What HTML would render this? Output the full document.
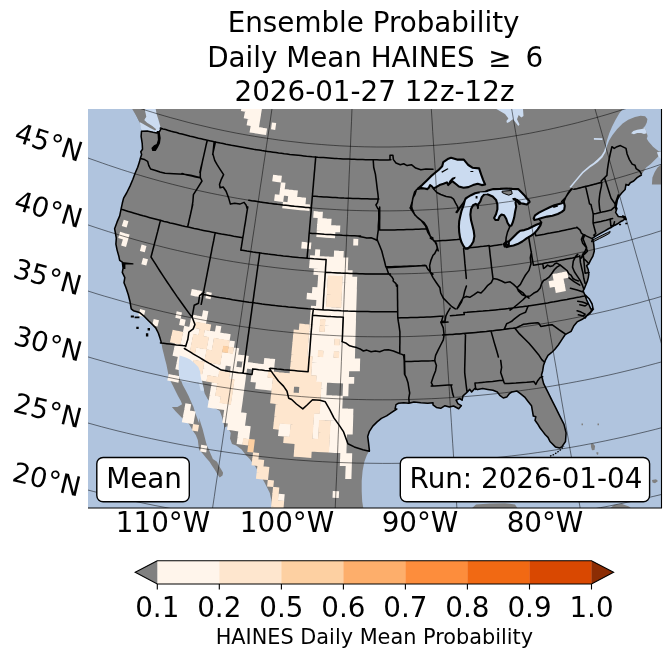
<!DOCTYPE html>
<html><head><meta charset="utf-8"><title>Ensemble Probability Daily Mean HAINES</title>
<style>html,body{margin:0;padding:0;background:#fff}svg{display:block;will-change:transform;opacity:0.999}text{font-family:"DejaVu Sans","Liberation Sans",sans-serif;fill:#000}</style></head><body>
<svg width="671" height="658" viewBox="0 0 671 658">
<rect width="671" height="658" fill="#fff"/>
<defs><clipPath id="mc"><rect x="88.0" y="109.0" width="574.0" height="399.0"/></clipPath></defs>
<g font-size="27.78" text-anchor="middle">
<text x="373.6" y="31.5">Ensemble Probability</text>
<text x="474.7" y="66.8" text-anchor="end">Daily Mean HAINES</text>
<text x="488.3" y="66.8" text-anchor="start">≥</text>
<text x="525.6" y="66.8" text-anchor="start">6</text>
<text x="374.5" y="101.3">2026-01-27 12z-12z</text>
</g>
<g clip-path="url(#mc)">
<rect x="88.0" y="109.0" width="574.0" height="399.0" fill="#b0c4de"/>
<rect x="88" y="109" width="574" height="399" fill="#808080"/>
<path d="M80.0,100.0 L132.2,100.0 L132.2,109.0 L136.8,116.7 L139.4,121.9 L141.1,127.0 L141.5,131.3 L141.1,136.4 L142.2,143.3 L142.5,149.3 L140.8,151.8 L141.6,154.4 L140.3,158.4 L139.4,162.1 L137.7,167.3 L135.1,173.3 L132.9,179.3 L130.0,186.1 L126.6,193.0 L123.6,198.1 L122.3,203.3 L121.1,208.9 L119.7,215.9 L117.1,221.9 L114.6,228.7 L115.4,233.0 L116.3,238.1 L115.9,244.1 L117.1,250.1 L118.8,256.1 L119.7,260.4 L122.3,262.1 L123.1,268.1 L122.3,272.4 L124.8,277.6 L124.0,282.7 L126.0,287.8 L128.3,294.7 L130.0,301.5 L131.2,308.9 L133.4,310.7 L139.4,312.4 L144.6,316.7 L148.8,321.0 L152.3,324.4 L155.7,327.9 L158.3,333.0 L160.0,338.1 L161.4,342.9 L162.3,348.2 L163.7,353.7 L165.0,359.2 L166.4,364.6 L167.5,370.1 L168.5,375.6 L170.5,381.0 L173.3,386.5 L176.0,392.0 L178.0,396.1 L180.8,400.9 L182.1,404.3 L177.4,407.0 L171.9,407.0 L175.3,411.1 L178.7,414.6 L182.1,418.0 L185.6,420.7 L189.0,424.1 L191.0,427.6 L193.0,431.0 L195.8,435.1 L197.8,439.9 L198.5,445.4 L199.2,450.1 L202.6,453.6 L206.0,457.7 L209.5,461.8 L212.2,465.9 L214.9,470.0 L217.7,474.8 L219.7,477.5 L222.5,475.5 L223.1,472.7 L221.1,469.3 L219.0,465.9 L217.0,461.8 L212.9,459.0 L210.8,454.3 L208.8,449.5 L206.7,444.7 L205.4,439.9 L204.0,434.4 L202.6,428.9 L200.8,423.5 L199.2,418.0 L199.2,423.4 L197.2,418.0 L195.1,412.5 L193.5,407.0 L191.0,401.6 L188.6,396.1 L185.8,390.6 L182.8,385.1 L180.8,379.7 L179.8,374.2 L179.4,367.4 L179.4,360.5 L180.8,355.0 L184.2,357.1 L188.3,359.2 L192.4,361.9 L196.5,366.0 L199.2,371.5 L201.3,376.9 L202.0,382.4 L203.4,387.9 L204.7,393.4 L207.5,398.8 L211.6,404.3 L215.7,408.4 L219.8,411.1 L221.8,416.6 L223.2,422.1 L224.6,427.6 L227.2,426.2 L230.7,433.0 L230.0,438.5 L232.0,444.0 L236.1,445.4 L241.6,449.5 L245.7,454.9 L249.8,459.0 L252.6,463.1 L255.0,465.9 L259.6,474.1 L264.7,482.7 L269.8,493.0 L271.6,501.5 L272.4,510.1 L272.4,520.0 L80.0,520.0Z" fill="#b0c4de"/>
<path d="M363.9,511.8 L362.2,501.5 L361.7,491.3 L361.7,481.0 L362.6,470.7 L364.3,462.1 L366.8,455.3 L369.4,450.6 L368.6,443.3 L367.7,436.4 L369.4,431.3 L372.8,426.1 L377.1,421.9 L381.4,418.4 L386.6,415.9 L391.7,412.4 L396.8,409.0 L395.1,408.9 L396.0,404.6 L398.5,403.3 L403.7,402.7 L408.8,403.3 L414.0,401.9 L420.8,402.7 L427.7,403.3 L433.0,402.7 L433.0,404.9 L436.4,407.4 L440.7,408.3 L445.0,405.7 L449.3,407.1 L453.6,406.0 L458.7,408.8 L461.3,405.7 L457.9,403.7 L456.1,400.2 L459.6,398.5 L462.1,400.2 L463.0,395.8 L466.4,392.9 L469.8,389.4 L471.6,392.0 L475.0,388.2 L477.6,389.6 L482.7,388.6 L487.8,389.4 L493.0,390.3 L497.3,392.0 L499.8,395.4 L503.3,398.0 L506.7,397.1 L509.3,393.7 L511.8,392.0 L517.0,391.1 L520.4,393.7 L524.7,397.1 L528.1,401.4 L531.5,405.7 L532.4,410.8 L533.3,416.0 L535.8,416.8 L535.0,420.3 L537.5,423.7 L540.1,428.0 L542.7,431.4 L545.3,434.8 L548.0,437.4 L550.0,441.5 L555.4,446.9 L559.7,448.0 L561.8,446.9 L565.5,441.5 L566.1,432.9 L564.0,424.4 L559.7,415.8 L555.4,407.2 L552.2,400.8 L547.9,392.2 L543.6,383.6 L541.5,375.0 L542.7,370.7 L543.5,365.6 L545.3,360.4 L548.0,355.3 L548.0,355.3 L551.4,352.7 L554.9,349.3 L558.3,345.0 L561.7,339.8 L565.1,334.7 L571.1,331.3 L573.7,326.1 L577.1,321.9 L582.3,319.3 L585.7,316.7 L590.0,313.3 L593.4,309.0 L590.8,308.9 L589.1,305.0 L586.6,299.8 L584.8,294.7 L583.1,290.9 L584.3,288.7 L585.7,285.3 L587.4,281.0 L588.3,277.6 L588.8,274.1 L588.3,269.8 L586.6,265.6 L588.8,263.8 L590.5,260.4 L592.9,256.1 L594.3,251.0 L593.9,245.8 L593.4,241.6 L592.1,238.6 L594.8,236.6 L599.5,233.9 L604.9,230.9 L608.9,228.5 L611.6,227.2 L614.9,225.2 L617.6,223.8 L620.3,221.8 L623.0,220.5 L625.0,218.9 L623.0,217.1 L618.3,216.5 L615.6,212.4 L616.9,208.4 L614.9,205.1 L616.3,200.4 L618.3,195.0 L615.7,208.9 L616.6,201.5 L619.1,196.4 L621.7,193.0 L625.1,189.5 L626.0,184.4 L628.5,185.3 L630.3,182.7 L633.7,181.0 L637.1,177.6 L641.4,175.0 L646.2,167.5 L650.7,164.1 L655.2,159.6 L658.6,156.2 L660.3,153.4 L668.7,152.9 L700.0,520.0Z" fill="#b0c4de"/>
<path d="M623.7,107.9 L619.2,113.5 L615.3,120.2 L611.9,127.0 L609.1,133.7 L606.9,140.5 L605.7,146.1 L606.9,146.1 L609.1,140.5 L612.5,134.9 L617.0,129.2 L622.6,123.6 L628.2,119.7 L635.0,116.9 L640.6,115.7 L645.1,116.3 L647.4,119.1 L646.8,122.5 L645.1,125.9 L642.9,128.3 L645.1,128.3 L646.8,133.2 L647.6,136.0 L646.8,138.8 L648.5,141.6 L650.7,143.9 L653.0,146.7 L655.8,148.9 L658.6,151.2 L664.2,152.3 L664.2,107.9Z" fill="#b0c4de"/>
<path d="M139.4,121.0 L141.5,130.9 L147.1,130.9 L154.0,132.7 L157.4,132.7 L159.6,130.4 L160.8,128.7 L160.0,125.3 L158.3,119.3 L156.6,114.1 L155.7,109.0 L144.6,109.0 L145.4,112.4 L146.3,116.7 L144.6,119.3 L142.8,121.3Z M496.4,109.0 L523.0,109.0 L523.5,115.9 L521.3,117.6 L518.7,115.0 L517.0,119.3 L519.5,124.4 L518.3,126.1 L515.3,121.9 L512.7,119.3 L509.3,121.9 L507.0,123.1 L506.4,121.0 L508.4,118.4 L505.0,114.1 L500.7,111.6Z M605.7,146.1 L606.9,146.1 L605.7,151.7 L602.4,157.4 L597.9,161.9 L593.4,165.2 L590.0,167.5 L583.3,173.1 L576.5,181.0 L570.9,187.7 L569.5,187.1 L575.4,179.9 L582.1,172.0 L590.0,165.2 L593.4,163.0 L597.3,159.6 L601.2,155.7 L604.1,151.2Z M593.9,138.0 L602.4,138.2 L602.4,140.0 L593.9,139.8Z M631.1,133.2 L633.3,130.9 L637.2,129.8 L641.7,129.0 L645.1,128.1 L646.8,133.2 L644.0,134.0 L641.2,133.0 L637.2,133.0 L633.9,134.3Z M656.9,152.3 L661.1,151.7 L661.1,159.1 L658.6,156.8Z M180.1,355.0 L186.1,356.4 L193.0,361.6 L199.0,369.3 L201.6,378.7 L204.1,390.7 L200.7,390.7 L198.1,380.4 L195.6,371.8 L190.4,365.0 L184.4,359.8 L182.2,362.4 L182.7,370.1 L180.1,370.1Z" fill="#cbdbf0"/>
<path d="M651.9,184.4 L652.4,177.6 L654.7,172.0 L657.5,167.5 L660.9,164.7 L664.2,164.7 L664.2,184.4Z M133.4,109.0 L144.6,109.0 L145.4,116.7 L144.2,120.1 L147.1,122.7 L152.3,126.1 L156.2,129.2 L155.2,130.6 L150.6,128.2 L145.4,125.3 L141.5,123.1 L139.4,121.9 L136.8,116.7Z M471.0,509.0 L476.0,504.5 L490.0,503.5 L505.0,503.2 L515.0,504.5 L518.0,509.0Z M609.0,509.0 L614.0,505.0 L622.0,504.0 L629.0,506.5 L632.0,509.0Z M590.8,444.0 L593.0,443.5 L595.1,446.0 L594.5,450.0 L592.0,450.3 L591.0,447.0Z M581.5,423.6 L583.0,423.6 L583.0,425.2 L581.5,425.2Z M597.5,423.6 L599.0,423.6 L599.0,425.2 L597.5,425.2Z M652.0,480.0 L656.0,479.2 L658.0,481.0 L655.0,483.3 L652.5,482.5Z M596.5,452.0 L598.5,452.5 L598.0,455.0 L596.5,454.0Z" fill="#808080"/>
<path d="M418.0,188.5 L422.1,185.1 L426.8,180.4 L430.8,176.4 L434.8,173.0 L438.8,169.7 L442.2,166.3 L443.3,162.1 L448.4,158.7 L451.0,157.8 L457.0,159.6 L463.8,159.6 L467.3,163.8 L468.3,165.0 L472.4,167.7 L479.1,168.4 L481.1,174.4 L483.1,179.8 L485.1,184.5 L481.8,185.1 L477.7,183.8 L473.0,185.1 L468.3,187.1 L463.6,187.8 L458.9,186.5 L455.6,183.8 L452.2,181.1 L450.2,183.1 L448.2,185.1 L446.9,182.4 L443.5,183.8 L439.5,185.1 L436.1,187.1 L433.5,188.5 L432.1,186.5 L430.1,185.1 L428.8,187.8 L427.4,189.1 L424.7,188.5 L421.4,188.1Z M485.5,191.8 L481.8,192.2 L478.4,192.5 L475.0,193.2 L471.0,195.2 L467.7,197.2 L465.7,198.5 L464.6,200.9 L463.6,205.2 L461.6,210.6 L460.3,216.0 L459.2,221.3 L458.9,226.7 L459.2,232.1 L460.0,237.4 L461.4,242.1 L463.6,246.2 L465.7,248.8 L467.7,248.8 L471.0,245.5 L473.4,241.5 L474.4,236.1 L473.7,230.7 L472.4,225.4 L471.0,220.0 L470.4,214.6 L471.0,209.3 L473.0,205.2 L475.7,203.9 L477.7,205.2 L479.1,203.2 L480.4,201.2 L481.8,197.2 L483.8,194.8 L485.8,193.8Z M484.0,192.5 L488.0,190.5 L493.4,189.1 L500.1,188.9 L506.8,188.5 L512.2,188.9 L518.2,189.1 L520.9,191.8 L524.3,195.2 L526.9,198.5 L529.0,200.5 L529.6,201.9 L526.9,204.6 L524.3,203.9 L520.9,203.2 L518.9,201.5 L516.9,199.9 L515.5,202.6 L516.2,206.6 L515.1,211.9 L514.2,217.3 L512.9,222.0 L511.5,225.4 L509.5,226.0 L507.5,222.7 L506.2,218.7 L504.1,215.3 L501.5,214.6 L499.5,216.6 L498.1,220.0 L495.4,220.0 L494.1,218.0 L496.1,214.0 L497.4,209.3 L497.4,204.6 L496.1,199.9 L492.7,196.5 L488.0,194.5 L484.0,193.8Z M503.9,243.9 L506.2,241.7 L508.8,241.5 L512.9,237.4 L516.9,233.4 L520.2,230.7 L524.3,230.1 L528.3,228.7 L532.3,226.7 L536.3,224.7 L539.7,223.4 L541.3,222.4 L540.4,225.4 L537.7,229.4 L535.0,232.7 L531.6,235.4 L526.9,238.1 L522.3,241.5 L517.6,244.1 L513.5,245.5 L509.5,246.2 L506.8,247.1 L504.4,245.8Z M533.7,218.4 L535.0,215.3 L539.0,212.6 L544.4,209.9 L549.8,207.3 L554.4,205.2 L559.1,203.9 L561.8,203.2 L563.8,201.9 L564.8,205.9 L564.2,209.9 L561.8,211.9 L557.8,214.0 L552.4,215.7 L547.1,216.6 L541.7,218.0 L537.7,219.3 L534.3,220.0Z M506.2,241.5 L508.8,241.7 L508.8,244.8 L506.2,244.8Z" fill="#cbdbf0" stroke="#000" stroke-width="2.1" stroke-linejoin="round"/>
<path d="M479.7,192.6 L487.1,192.2 L487.1,193.7 L479.7,194.1Z" fill="#cbdbf0"/>
<path d="M502.1,191.2 L511.5,190.5 L512.2,193.8 L508.8,195.2 L504.8,193.8 L502.1,192.5Z M591.5,240.6 L596.8,237.9 L602.2,235.2 L607.6,232.6 L610.2,231.5 L609.6,233.2 L604.9,235.9 L599.5,238.6 L594.1,241.3 L591.5,241.9Z" fill="#808080" stroke="#000" stroke-width="1.0" stroke-linejoin="round"/>
<path d="M277.8,500.5 284.1,501.1 284.7,494.3 278.4,493.8ZM332.5,497.8 338.8,498.1 339.1,491.3 332.8,491.0ZM345.2,478.9 351.4,479.1 351.6,472.4 345.4,472.2ZM345.4,472.5 351.6,472.7 351.8,466.0 345.7,465.8ZM200.1,451.4 206.2,452.4 207.2,445.8 201.2,444.8ZM339.8,465.9 345.9,466.1 346.2,459.4 340.1,459.2ZM345.7,466.1 351.8,466.3 352.0,459.6 345.9,459.4ZM340.1,459.5 346.2,459.7 346.4,453.0 340.3,452.8ZM345.9,459.7 352.0,459.9 352.2,453.2 346.1,453.0ZM236.6,444.0 242.6,444.8 243.4,438.2 237.5,437.4ZM328.7,452.6 334.8,452.9 335.1,446.2 329.1,445.9ZM334.5,452.8 340.6,453.1 340.8,446.4 334.8,446.2ZM340.3,453.1 346.4,453.3 346.6,446.6 340.6,446.4ZM237.4,437.7 243.4,438.5 244.3,431.9 238.3,431.1ZM243.1,438.5 249.1,439.2 249.9,432.6 244.0,431.8ZM329.1,446.2 335.1,446.5 335.4,439.8 329.4,439.5ZM334.8,446.5 340.8,446.7 341.1,440.0 335.1,439.8ZM340.6,446.7 346.6,446.9 346.8,440.3 340.8,440.0ZM181.8,422.2 187.7,423.3 188.9,416.7 183.1,415.7ZM187.5,423.3 193.4,424.3 194.5,417.8 188.7,416.7ZM227.0,429.8 232.9,430.6 233.8,424.0 227.9,423.2ZM232.6,430.6 238.6,431.4 239.4,424.8 233.5,424.0ZM238.3,431.4 244.2,432.2 245.1,425.6 239.2,424.8ZM244.0,432.1 249.9,432.9 250.7,426.3 244.8,425.5ZM278.0,436.0 284.0,436.6 284.6,430.0 278.7,429.4ZM283.7,436.6 289.7,437.1 290.3,430.5 284.4,429.9ZM312.3,438.8 318.2,439.2 318.6,432.6 312.7,432.2ZM329.4,439.8 335.4,440.1 335.7,433.5 329.7,433.2ZM335.1,440.1 341.1,440.4 341.3,433.7 335.4,433.4ZM340.8,440.3 346.8,440.6 347.0,433.9 341.1,433.7ZM183.0,416.0 188.9,417.0 190.1,410.5 184.3,409.4ZM188.6,417.0 194.5,418.1 195.6,411.5 189.8,410.4ZM222.3,422.7 228.1,423.5 229.1,416.9 223.3,416.1ZM227.9,423.5 233.8,424.3 234.7,417.7 228.8,416.9ZM233.5,424.3 239.4,425.1 240.3,418.5 234.4,417.7ZM239.1,425.1 245.0,425.9 245.9,419.3 240.0,418.5ZM278.7,429.7 284.6,430.3 285.2,423.6 279.3,423.1ZM284.3,430.2 290.3,430.8 290.8,424.1 284.9,423.6ZM312.7,432.5 318.6,432.9 319.0,426.2 313.1,425.8ZM329.7,433.5 335.7,433.8 335.9,427.1 330.0,426.8ZM335.4,433.7 341.3,434.0 341.6,427.3 335.7,427.1ZM341.1,434.0 347.0,434.2 347.2,427.5 341.3,427.3ZM346.7,434.2 352.7,434.4 352.9,427.7 347.0,427.5ZM184.2,409.7 190.0,410.8 191.2,404.3 185.4,403.2ZM223.2,416.4 229.1,417.2 230.0,410.7 224.2,409.8ZM228.8,417.2 234.7,418.0 235.6,411.5 229.8,410.6ZM234.4,418.0 240.3,418.8 241.2,412.2 235.3,411.4ZM240.0,418.8 245.9,419.6 246.7,413.0 240.9,412.2ZM313.1,426.1 319.0,426.5 319.4,419.9 313.5,419.5ZM330.0,427.1 335.9,427.4 336.2,420.8 330.4,420.5ZM335.7,427.4 341.6,427.6 341.8,421.0 336.0,420.7ZM341.3,427.6 347.2,427.8 347.5,421.2 341.6,421.0ZM347.0,427.8 352.9,428.0 353.1,421.4 347.2,421.2ZM207.5,407.4 213.3,408.4 214.4,401.8 208.6,400.9ZM213.1,408.3 218.9,409.3 219.9,402.7 214.1,401.8ZM218.6,409.2 224.4,410.1 225.4,403.6 219.6,402.7ZM224.2,410.1 230.0,411.0 230.9,404.4 225.2,403.5ZM229.7,410.9 235.5,411.8 236.5,405.2 230.7,404.3ZM235.3,411.7 241.1,412.5 242.0,405.9 236.2,405.1ZM313.5,419.8 319.4,420.2 319.8,413.5 313.9,413.2ZM319.1,420.2 325.0,420.5 325.4,413.9 319.5,413.5ZM324.7,420.5 330.6,420.8 330.9,414.2 325.1,413.9ZM330.3,420.8 336.2,421.1 336.5,414.4 330.7,414.1ZM335.9,421.1 341.8,421.3 342.1,414.7 336.2,414.4ZM341.6,421.3 347.4,421.5 347.7,414.9 341.8,414.6ZM347.2,421.5 353.1,421.7 353.3,415.0 347.4,414.9ZM208.6,401.2 214.3,402.1 215.4,395.6 209.7,394.6ZM214.1,402.1 219.9,403.0 220.9,396.5 215.1,395.5ZM230.6,404.6 236.4,405.5 237.4,398.9 231.6,398.1ZM236.2,405.4 242.0,406.2 242.9,399.7 237.1,398.9ZM319.5,413.8 325.3,414.2 325.7,407.5 319.9,407.2ZM325.1,414.2 330.9,414.5 331.3,407.8 325.4,407.5ZM330.7,414.5 336.5,414.7 336.8,408.1 331.0,407.8ZM336.2,414.7 342.1,415.0 342.3,408.3 336.5,408.1ZM341.8,415.0 347.7,415.2 347.9,408.5 342.1,408.3ZM347.4,415.2 353.2,415.3 353.4,408.7 347.6,408.5ZM209.6,394.9 215.4,395.9 216.4,389.3 210.7,388.4ZM231.6,398.4 237.3,399.2 238.2,392.6 232.5,391.8ZM237.0,399.2 242.8,400.0 243.7,393.4 238.0,392.6ZM319.9,407.5 325.7,407.8 326.1,401.2 320.3,400.9ZM325.4,407.8 331.2,408.1 331.6,401.5 325.8,401.2ZM331.0,408.1 336.8,408.4 337.1,401.8 331.3,401.5ZM336.5,408.4 342.3,408.6 342.6,402.0 336.8,401.8ZM167.3,380.5 173.0,381.6 174.3,375.2 168.7,374.0ZM172.7,381.6 178.4,382.7 179.7,376.2 174.0,375.1ZM210.7,388.7 216.4,389.6 217.4,383.1 211.8,382.2ZM232.5,392.1 238.2,392.9 239.1,386.4 233.4,385.6ZM237.9,392.9 243.7,393.7 244.5,387.1 238.9,386.3ZM320.3,401.2 326.0,401.5 326.4,394.9 320.7,394.6ZM325.8,401.5 331.6,401.8 331.9,395.2 326.1,394.9ZM331.3,401.8 337.1,402.1 337.4,395.5 331.6,395.2ZM336.8,402.1 342.6,402.3 342.8,395.7 337.1,395.5ZM179.4,376.5 185.0,377.6 186.3,371.1 180.7,370.0ZM184.7,377.6 190.4,378.6 191.6,372.1 186.0,371.1ZM190.1,378.6 195.8,379.7 197.0,373.1 191.4,372.1ZM195.5,379.6 201.2,380.6 202.3,374.1 196.7,373.1ZM200.9,380.6 206.6,381.6 207.7,375.1 202.1,374.1ZM233.4,385.9 239.1,386.7 240.0,380.1 234.3,379.3ZM238.8,386.6 244.5,387.4 245.4,380.9 239.7,380.1ZM255.1,388.8 260.8,389.5 261.6,382.9 255.9,382.2ZM260.6,389.5 266.3,390.1 267.0,383.6 261.4,382.9ZM266.0,390.1 271.7,390.8 272.4,384.2 266.8,383.5ZM320.7,394.9 326.4,395.2 326.8,388.6 321.1,388.3ZM342.6,396.0 348.3,396.2 348.5,389.6 342.8,389.4ZM175.3,369.2 180.9,370.4 182.2,363.9 176.6,362.7ZM180.6,370.3 186.2,371.4 187.5,364.9 181.9,363.8ZM185.9,371.4 191.6,372.4 192.8,365.9 187.2,364.9ZM202.0,374.4 207.6,375.4 208.8,368.8 203.2,367.9ZM207.4,375.3 213.0,376.3 214.1,369.8 208.5,368.8ZM212.8,376.2 218.4,377.2 219.5,370.6 213.9,369.7ZM228.9,378.8 234.6,379.7 235.5,373.1 229.9,372.3ZM234.3,379.6 240.0,380.4 240.9,373.9 235.3,373.1ZM239.7,380.4 245.4,381.2 246.2,374.6 240.6,373.8ZM250.5,381.9 256.2,382.6 257.0,376.0 251.4,375.3ZM255.9,382.6 261.6,383.2 262.4,376.7 256.7,376.0ZM261.3,383.2 267.0,383.9 267.7,377.3 262.1,376.6ZM266.7,383.8 272.4,384.5 273.1,377.9 267.5,377.3ZM321.0,388.6 326.7,388.9 327.1,382.3 321.4,382.0ZM342.8,389.7 348.5,389.9 348.7,383.3 343.1,383.1ZM176.5,363.0 182.1,364.2 183.4,357.7 177.9,356.6ZM181.8,364.1 187.4,365.2 188.7,358.7 183.1,357.6ZM187.2,365.2 192.7,366.2 194.0,359.8 188.4,358.7ZM203.1,368.2 208.7,369.1 209.8,362.6 204.3,361.7ZM208.5,369.1 214.1,370.1 215.2,363.5 209.6,362.6ZM213.8,370.0 219.4,370.9 220.5,364.4 214.9,363.5ZM219.2,370.9 224.8,371.8 225.8,365.3 220.2,364.4ZM229.9,372.6 235.5,373.4 236.4,366.9 230.8,366.0ZM235.2,373.4 240.8,374.2 241.8,367.6 236.2,366.8ZM240.6,374.1 246.2,374.9 247.1,368.4 241.5,367.6ZM251.3,375.6 256.9,376.3 257.8,369.8 252.2,369.1ZM256.7,376.3 262.3,377.0 263.1,370.4 257.5,369.7ZM262.1,376.9 267.7,377.6 268.5,371.0 262.8,370.4ZM316.0,381.9 321.7,382.3 322.1,375.7 316.4,375.4ZM321.4,382.3 327.1,382.6 327.4,376.0 321.8,375.7ZM326.8,382.6 332.5,382.9 332.8,376.3 327.2,376.0ZM332.2,382.9 337.9,383.2 338.2,376.6 332.6,376.3ZM337.6,383.1 343.3,383.4 343.6,376.8 337.9,376.5ZM343.1,383.4 348.7,383.6 349.0,377.0 343.3,376.8ZM348.5,383.6 354.1,383.8 354.3,377.1 348.7,377.0ZM172.5,355.8 178.1,356.9 179.4,350.4 173.9,349.3ZM177.8,356.9 183.3,358.0 184.6,351.5 179.1,350.4ZM183.1,357.9 188.6,359.0 189.9,352.6 184.4,351.5ZM188.4,359.0 193.9,360.0 195.1,353.6 189.6,352.5ZM193.6,360.0 199.2,361.0 200.4,354.5 194.9,353.5ZM198.9,361.0 204.5,362.0 205.7,355.5 200.1,354.5ZM220.2,364.7 225.7,365.6 226.8,359.0 221.2,358.2ZM225.5,365.5 231.1,366.4 232.0,359.9 226.5,359.0ZM230.8,366.3 236.4,367.2 237.3,360.6 231.8,359.8ZM241.5,367.9 247.0,368.7 247.9,362.1 242.4,361.4ZM246.8,368.6 252.4,369.4 253.2,362.8 247.7,362.1ZM252.1,369.4 257.7,370.1 258.5,363.5 253.0,362.8ZM257.5,370.0 263.1,370.7 263.9,364.2 258.3,363.5ZM262.8,370.7 268.4,371.3 269.2,364.8 263.6,364.1ZM268.2,371.3 273.8,371.9 274.5,365.4 268.9,364.8ZM311.1,375.3 316.7,375.7 317.1,369.1 311.5,368.7ZM316.4,375.7 322.1,376.0 322.5,369.4 316.9,369.1ZM321.8,376.0 327.4,376.3 327.8,369.7 322.2,369.4ZM327.2,376.3 332.8,376.6 333.1,370.0 327.5,369.7ZM332.6,376.6 338.2,376.9 338.5,370.3 332.9,370.0ZM337.9,376.8 343.6,377.1 343.8,370.5 338.2,370.3ZM343.3,377.1 348.9,377.3 349.2,370.7 343.6,370.5ZM173.8,349.6 179.3,350.7 180.7,344.3 175.2,343.1ZM179.1,350.7 184.6,351.8 185.9,345.3 180.4,344.2ZM184.3,351.8 189.8,352.9 191.1,346.4 185.6,345.3ZM194.8,353.8 200.3,354.8 201.5,348.4 196.1,347.3ZM200.1,354.8 205.6,355.8 206.8,349.3 201.3,348.3ZM221.2,358.5 226.7,359.3 227.7,352.8 222.2,351.9ZM226.5,359.3 232.0,360.2 233.0,353.6 227.5,352.8ZM231.7,360.1 237.3,360.9 238.2,354.4 232.7,353.6ZM237.0,360.9 242.6,361.7 243.5,355.2 238.0,354.4ZM242.3,361.7 247.9,362.4 248.8,355.9 243.3,355.1ZM263.6,364.4 269.1,365.1 269.9,358.5 264.3,357.9ZM268.9,365.1 274.4,365.7 275.2,359.1 269.6,358.5ZM311.5,369.0 317.1,369.4 317.5,362.8 312.0,362.4ZM316.8,369.4 322.4,369.7 322.8,363.1 317.3,362.8ZM322.2,369.7 327.8,370.0 328.1,363.4 322.6,363.1ZM327.5,370.0 333.1,370.3 333.5,363.7 327.9,363.4ZM332.9,370.3 338.5,370.6 338.8,364.0 333.2,363.7ZM338.2,370.6 343.8,370.8 344.1,364.2 338.5,364.0ZM343.6,370.8 349.2,371.0 349.4,364.4 343.8,364.2ZM348.9,371.0 354.5,371.2 354.7,364.6 349.1,364.4ZM354.3,371.1 359.9,371.3 360.0,364.7 354.4,364.6ZM180.3,344.5 185.8,345.6 187.1,339.2 181.7,338.1ZM185.6,345.6 191.0,346.7 192.3,340.2 186.9,339.1ZM206.5,349.6 211.9,350.5 213.1,344.0 207.6,343.1ZM232.7,353.9 238.2,354.7 239.2,348.2 233.7,347.4ZM311.9,362.7 317.5,363.1 317.9,356.5 312.4,356.2ZM317.3,363.1 322.8,363.4 323.2,356.9 317.7,356.5ZM322.6,363.4 328.1,363.8 328.5,357.2 323.0,356.8ZM327.9,363.7 333.4,364.0 333.8,357.4 328.2,357.2ZM333.2,364.0 338.7,364.3 339.0,357.7 333.5,357.4ZM338.5,364.3 344.1,364.5 344.3,357.9 338.8,357.7ZM343.8,364.5 349.4,364.7 349.6,358.1 344.1,357.9ZM349.1,364.7 354.7,364.9 354.9,358.3 349.3,358.1ZM354.4,364.9 360.0,365.0 360.2,358.4 354.6,358.3ZM181.6,338.4 187.0,339.5 188.3,333.0 183.0,331.9ZM186.8,339.4 192.2,340.5 193.5,334.0 188.1,333.0ZM207.6,343.4 213.0,344.3 214.1,337.8 208.7,336.9ZM228.4,346.9 233.9,347.7 234.9,341.2 229.4,340.4ZM307.1,356.1 312.6,356.5 313.1,349.9 307.6,349.5ZM312.4,356.5 317.9,356.8 318.4,350.3 312.9,349.9ZM322.9,357.1 328.5,357.5 328.8,350.9 323.3,350.6ZM328.2,357.5 333.7,357.7 334.1,351.2 328.6,350.9ZM338.8,358.0 344.3,358.2 344.6,351.6 339.1,351.4ZM344.1,358.2 349.6,358.4 349.8,351.8 344.3,351.6ZM349.3,358.4 354.9,358.6 355.1,352.0 349.6,351.8ZM152.1,325.4 157.5,326.6 159.0,320.2 153.7,318.9ZM182.9,332.2 188.3,333.3 189.6,326.9 184.2,325.8ZM188.0,333.3 193.4,334.3 194.7,327.9 189.3,326.8ZM193.2,334.3 198.6,335.3 199.8,328.9 194.5,327.8ZM203.5,336.2 208.9,337.2 210.1,330.7 204.7,329.8ZM208.7,337.2 214.1,338.1 215.2,331.6 209.8,330.7ZM213.8,338.1 219.3,339.0 220.4,332.5 215.0,331.6ZM219.0,339.0 224.5,339.9 225.5,333.4 220.1,332.5ZM224.2,339.8 229.6,340.7 230.7,334.2 225.3,333.3ZM307.6,349.8 313.1,350.2 313.6,343.6 308.1,343.2ZM312.8,350.2 318.3,350.6 318.8,344.0 313.3,343.6ZM318.1,350.5 323.6,350.9 324.0,344.3 318.5,344.0ZM323.3,350.9 328.8,351.2 329.2,344.6 323.7,344.3ZM328.6,351.2 334.1,351.5 334.4,344.9 328.9,344.6ZM333.8,351.5 339.3,351.7 339.6,345.1 334.1,344.9ZM339.1,351.7 344.6,351.9 344.8,345.4 339.3,345.1ZM344.3,351.9 349.8,352.1 350.0,345.5 344.6,345.3ZM349.5,352.1 355.1,352.3 355.2,345.7 349.8,345.5ZM138.4,315.5 143.7,316.8 145.3,310.4 140.1,309.1ZM179.1,325.0 184.4,326.1 185.7,319.7 180.4,318.5ZM189.3,327.1 194.6,328.2 195.9,321.7 190.6,320.6ZM214.9,331.9 220.3,332.8 221.4,326.3 216.0,325.4ZM308.1,343.5 313.5,343.9 314.0,337.4 308.6,337.0ZM313.3,343.9 318.7,344.3 319.2,337.7 313.8,337.3ZM318.5,344.3 324.0,344.6 324.4,338.0 318.9,337.7ZM323.7,344.6 329.2,344.9 329.5,338.3 324.1,338.0ZM328.9,344.9 334.4,345.2 334.7,338.6 329.3,338.3ZM339.3,345.4 344.8,345.7 345.1,339.1 339.6,338.8ZM344.5,345.6 350.0,345.8 350.2,339.3 344.8,339.1ZM349.8,345.8 355.2,346.0 355.4,339.4 350.0,339.3ZM175.3,317.8 180.6,318.9 182.0,312.5 176.7,311.3ZM190.5,320.9 195.8,322.0 197.1,315.5 191.8,314.5ZM195.6,321.9 200.9,323.0 202.2,316.5 196.9,315.5ZM200.7,322.9 206.0,323.9 207.2,317.5 201.9,316.5ZM308.6,337.3 314.0,337.7 314.5,331.1 309.1,330.7ZM313.7,337.6 319.2,338.0 319.6,331.5 314.2,331.1ZM318.9,338.0 324.3,338.3 324.7,331.8 319.3,331.4ZM324.1,338.3 329.5,338.6 329.9,332.1 324.5,331.8ZM329.3,338.6 334.7,338.9 335.0,332.3 329.6,332.1ZM334.4,338.9 339.9,339.2 340.2,332.6 334.8,332.3ZM339.6,339.2 345.0,339.4 345.3,332.8 339.9,332.6ZM344.8,339.4 350.2,339.6 350.5,333.0 345.1,332.8ZM350.0,339.6 355.4,339.7 355.6,333.2 350.2,333.0ZM201.9,316.8 207.2,317.8 208.4,311.3 203.1,310.3ZM309.0,331.0 314.4,331.4 314.9,324.8 309.6,324.4ZM314.2,331.4 319.6,331.8 320.0,325.2 314.7,324.8ZM324.5,332.1 329.9,332.4 330.2,325.8 324.9,325.5ZM329.6,332.4 335.0,332.6 335.3,326.1 330.0,325.8ZM334.8,332.6 340.1,332.9 340.4,326.3 335.1,326.1ZM339.9,332.9 345.3,333.1 345.6,326.5 340.2,326.3ZM345.0,333.1 350.4,333.3 350.7,326.7 345.3,326.5ZM350.2,333.3 355.6,333.5 355.8,326.9 350.4,326.7ZM309.5,324.7 314.9,325.1 315.3,318.6 310.0,318.2ZM314.6,325.1 320.0,325.5 320.4,318.9 315.1,318.6ZM324.8,325.8 330.2,326.1 330.6,319.5 325.2,319.2ZM330.0,326.1 335.3,326.4 335.6,319.8 330.3,319.5ZM335.1,326.4 340.4,326.6 340.7,320.0 335.4,319.8ZM340.2,326.6 345.5,326.8 345.8,320.3 340.5,320.0ZM345.3,326.8 350.7,327.0 350.9,320.4 345.6,320.2ZM350.4,327.0 355.8,327.2 356.0,320.6 350.6,320.4ZM310.0,318.5 315.3,318.9 315.8,312.3 310.5,311.9ZM315.1,318.9 320.4,319.2 320.8,312.7 315.5,312.3ZM320.2,319.2 325.5,319.5 325.9,313.0 320.6,312.6ZM325.2,319.5 330.5,319.8 330.9,313.3 325.6,313.0ZM330.3,319.8 335.6,320.1 336.0,313.5 330.7,313.3ZM335.4,320.1 340.7,320.3 341.0,313.8 335.7,313.5ZM340.5,320.3 345.8,320.6 346.0,314.0 340.8,313.8ZM345.5,320.5 350.9,320.7 351.1,314.2 345.8,314.0ZM350.6,320.7 355.9,320.9 356.1,314.3 350.8,314.2ZM190.5,295.3 195.7,296.4 197.0,289.9 191.8,288.9ZM195.5,296.3 200.7,297.3 201.9,290.9 196.8,289.9ZM205.4,298.3 210.6,299.2 211.8,292.8 206.6,291.8ZM310.5,312.2 315.8,312.6 316.2,306.1 311.0,305.7ZM315.5,312.6 320.8,313.0 321.2,306.4 316.0,306.0ZM320.6,312.9 325.8,313.3 326.2,306.7 321.0,306.4ZM325.6,313.3 330.9,313.6 331.3,307.0 326.0,306.7ZM330.7,313.6 335.9,313.8 336.3,307.3 331.0,307.0ZM335.7,313.8 341.0,314.1 341.3,307.5 336.0,307.3ZM340.7,314.1 346.0,314.3 346.3,307.7 341.0,307.5ZM345.8,314.3 351.1,314.5 351.3,307.9 346.0,307.7ZM350.8,314.5 356.1,314.6 356.3,308.1 351.1,307.9ZM316.0,306.3 321.2,306.7 321.7,300.1 316.4,299.8ZM321.0,306.7 326.2,307.0 326.6,300.4 321.4,300.1ZM341.0,307.8 346.3,308.0 346.5,301.4 341.3,301.2ZM346.0,308.0 351.3,308.2 351.5,301.6 346.3,301.4ZM351.1,308.2 356.3,308.4 356.5,301.8 351.3,301.6ZM555.8,292.9 561.0,292.0 559.8,285.5 554.6,286.5ZM560.8,292.0 565.9,291.0 564.7,284.6 559.5,285.5ZM306.5,299.3 311.7,299.7 312.2,293.2 307.0,292.8ZM311.4,299.7 316.7,300.1 317.1,293.5 311.9,293.1ZM316.4,300.1 321.6,300.4 322.1,293.9 316.9,293.5ZM321.4,300.4 326.6,300.7 327.0,294.2 321.8,293.9ZM341.3,301.5 346.5,301.7 346.8,295.2 341.6,294.9ZM346.3,301.7 351.5,301.9 351.7,295.3 346.5,295.2ZM351.3,301.9 356.5,302.1 356.7,295.5 351.5,295.3ZM549.8,287.7 554.9,286.7 553.7,280.2 548.6,281.2ZM554.7,286.8 559.8,285.8 558.6,279.3 553.5,280.3ZM559.6,285.8 564.7,284.8 563.5,278.4 558.4,279.4ZM141.3,264.3 146.3,265.6 148.0,259.3 143.0,257.9ZM311.9,293.4 317.1,293.8 317.6,287.3 312.4,286.9ZM316.9,293.8 322.0,294.2 322.5,287.6 317.3,287.3ZM321.8,294.2 327.0,294.5 327.4,287.9 322.2,287.6ZM341.6,295.2 346.8,295.5 347.0,288.9 341.9,288.7ZM346.5,295.5 351.7,295.6 351.9,289.1 346.8,288.9ZM351.5,295.6 356.7,295.8 356.9,289.2 351.7,289.1ZM553.6,280.6 558.7,279.6 557.4,273.2 552.4,274.1ZM558.4,279.7 563.5,278.7 562.3,272.2 557.2,273.2ZM563.3,278.7 568.4,277.7 567.1,271.3 562.0,272.3ZM317.3,287.6 322.5,287.9 322.9,281.3 317.8,281.0ZM322.2,287.9 327.4,288.2 327.8,281.6 322.7,281.3ZM341.9,289.0 347.0,289.2 347.3,282.6 342.2,282.4ZM346.8,289.2 351.9,289.4 352.2,282.8 347.0,282.6ZM351.7,289.4 356.8,289.5 357.0,282.9 351.9,282.8ZM121.1,245.5 126.0,247.0 127.8,240.7 122.9,239.2ZM139.9,250.9 144.8,252.2 146.5,245.9 141.6,244.5ZM317.8,281.3 322.9,281.6 323.3,275.1 318.2,274.7ZM322.6,281.6 327.7,281.9 328.1,275.4 323.1,275.0ZM342.1,282.7 347.3,282.9 347.5,276.3 342.4,276.1ZM347.0,282.9 352.1,283.1 352.4,276.5 347.3,276.3ZM351.9,283.1 357.0,283.2 357.2,276.7 352.1,276.5ZM118.2,238.1 123.1,239.6 124.9,233.3 120.1,231.8ZM122.9,239.5 127.7,240.9 129.6,234.6 124.7,233.2ZM313.4,274.7 318.4,275.0 318.9,268.5 313.9,268.1ZM318.2,275.0 323.3,275.4 323.7,268.8 318.7,268.4ZM323.0,275.4 328.1,275.7 328.5,269.1 323.5,268.8ZM327.9,275.7 333.0,276.0 333.3,269.4 328.3,269.1ZM332.7,275.9 337.8,276.2 338.1,269.6 333.1,269.4ZM337.6,276.2 342.7,276.4 343.0,269.9 337.9,269.6ZM342.4,276.4 347.5,276.6 347.8,270.1 342.7,269.8ZM347.3,276.6 352.4,276.8 352.6,270.2 347.5,270.0ZM309.0,268.0 314.1,268.4 314.6,261.8 309.6,261.4ZM313.8,268.4 318.9,268.8 319.4,262.2 314.4,261.8ZM318.7,268.7 323.7,269.1 324.1,262.5 319.1,262.2ZM323.5,269.1 328.5,269.4 328.9,262.8 323.9,262.5ZM328.3,269.4 333.3,269.7 333.7,263.1 328.7,262.8ZM333.1,269.7 338.1,269.9 338.5,263.3 333.4,263.1ZM337.9,269.9 342.9,270.2 343.2,263.6 338.2,263.3ZM342.7,270.1 347.8,270.4 348.0,263.8 343.0,263.6ZM121.8,226.1 126.6,227.5 128.5,221.2 123.8,219.8ZM309.6,261.7 314.6,262.1 315.1,255.6 310.1,255.2ZM314.3,262.1 319.3,262.5 319.8,255.9 314.8,255.5ZM319.1,262.5 324.1,262.8 324.5,256.2 319.6,255.9ZM323.9,262.8 328.9,263.1 329.3,256.5 324.3,256.2ZM328.7,263.1 333.7,263.4 334.0,256.8 329.1,256.5ZM333.4,263.4 338.4,263.6 338.8,257.1 333.8,256.8ZM338.2,263.6 343.2,263.9 343.5,257.3 338.5,257.0ZM343.0,263.9 348.0,264.1 348.3,257.5 343.3,257.3ZM314.8,255.8 319.8,256.2 320.2,249.6 315.3,249.3ZM333.8,257.1 338.8,257.4 339.1,250.8 334.1,250.5ZM338.5,257.3 343.5,257.6 343.8,251.0 338.9,250.8ZM301.2,248.4 306.1,248.8 306.7,242.2 301.8,241.8ZM305.9,248.8 310.8,249.2 311.4,242.6 306.5,242.2ZM353.2,245.4 358.1,245.5 358.3,238.9 353.4,238.7ZM316.3,237.0 321.1,237.3 321.6,230.7 316.8,230.4ZM320.9,237.3 325.8,237.7 326.2,231.1 321.4,230.7ZM325.5,237.7 330.4,238.0 330.8,231.4 326.0,231.0ZM330.2,237.9 335.0,238.2 335.4,231.6 330.6,231.3ZM316.7,230.7 321.6,231.1 322.0,224.4 317.2,224.1ZM321.3,231.0 326.2,231.4 326.6,224.8 321.8,224.4ZM326.0,231.4 330.8,231.7 331.2,225.0 326.4,224.7ZM330.6,231.6 335.4,231.9 335.8,225.3 331.0,225.0ZM335.2,231.9 340.0,232.2 340.3,225.5 335.5,225.3ZM317.2,224.4 322.0,224.7 322.5,218.1 317.7,217.8ZM321.8,224.7 326.6,225.1 327.0,218.4 322.3,218.1ZM326.4,225.0 331.2,225.3 331.6,218.7 326.8,218.4ZM313.2,217.7 317.9,218.1 318.4,211.5 313.7,211.1ZM317.7,218.1 322.5,218.4 322.9,211.8 318.2,211.5ZM282.2,208.2 286.9,208.8 287.7,202.2 283.0,201.6ZM286.7,208.8 291.4,209.3 292.1,202.7 287.5,202.2ZM291.2,209.3 295.9,209.8 296.6,203.1 291.9,202.7ZM295.7,209.7 300.4,210.2 301.0,203.6 296.4,203.1ZM300.2,210.2 304.9,210.6 305.5,204.0 300.8,203.6ZM304.7,210.6 309.4,211.0 310.0,204.4 305.3,204.0ZM274.1,200.8 278.7,201.4 279.6,194.8 274.9,194.2ZM278.5,201.4 283.2,202.0 284.0,195.4 279.3,194.8ZM287.4,202.5 292.1,203.0 292.8,196.4 288.2,195.8ZM291.9,203.0 296.6,203.5 297.2,196.8 292.6,196.3ZM296.3,203.4 301.0,203.9 301.7,197.3 297.0,196.8ZM300.8,203.9 305.5,204.3 306.1,197.7 301.5,197.3ZM279.3,195.1 283.9,195.7 284.7,189.0 280.1,188.5ZM283.7,195.6 288.4,196.2 289.1,189.5 284.5,189.0ZM288.1,196.1 292.8,196.7 293.5,190.0 288.9,189.5ZM292.6,196.6 297.2,197.1 297.9,190.5 293.3,190.0ZM280.1,188.8 284.7,189.3 285.5,182.7 280.9,182.2ZM272.2,181.3 276.7,181.9 277.6,175.3 273.1,174.7ZM276.5,181.9 281.1,182.5 281.9,175.8 277.4,175.3ZM249.5,132.4 253.8,133.1 255.0,126.4 250.7,125.7ZM253.6,133.1 257.9,133.8 259.0,127.1 254.8,126.4ZM257.7,133.8 262.0,134.4 263.1,127.7 258.8,127.1ZM261.8,134.4 266.1,135.1 267.1,128.4 262.9,127.7ZM246.6,125.3 250.8,126.0 252.0,119.3 247.8,118.6ZM250.7,126.0 254.9,126.7 256.0,120.0 251.8,119.3ZM254.7,126.7 259.0,127.4 260.0,120.7 255.8,120.0ZM271.0,129.3 275.2,129.9 276.2,123.1 271.9,122.5ZM243.7,118.2 247.9,118.9 249.1,112.2 245.0,111.5ZM247.7,118.9 252.0,119.6 253.1,112.9 248.9,112.2ZM251.8,119.6 256.0,120.3 257.1,113.6 252.9,112.9ZM255.8,120.3 260.0,121.0 261.1,114.3 256.9,113.6ZM240.9,111.0 245.1,111.8 246.3,105.1 242.2,104.3ZM244.9,111.8 249.1,112.5 250.3,105.8 246.2,105.1ZM248.9,112.5 253.1,113.2 254.2,106.5 250.1,105.8ZM252.9,113.2 257.1,113.9 258.2,107.2 254.0,106.5ZM256.9,113.9 261.0,114.6 262.1,107.8 258.0,107.1Z" fill="#fff5eb"/>
<path d="M270.5,512.9 276.9,513.5 277.5,506.7 271.2,506.1ZM276.6,513.5 283.0,514.1 283.6,507.3 277.2,506.7ZM271.1,506.4 277.5,507.0 278.1,500.3 271.8,499.7ZM277.2,507.0 283.6,507.6 284.2,500.8 277.8,500.2ZM271.8,500.0 278.1,500.6 278.7,493.8 272.4,493.2ZM272.4,493.5 278.7,494.1 279.3,487.4 273.1,486.8ZM267.1,486.5 273.3,487.1 274.0,480.4 267.8,479.8ZM255.9,478.8 262.1,479.5 262.8,472.8 256.7,472.1ZM261.8,479.4 268.0,480.1 268.7,473.4 262.6,472.7ZM256.6,472.4 262.8,473.1 263.5,466.4 257.4,465.7ZM262.5,473.0 268.7,473.7 269.4,467.0 263.2,466.3ZM251.5,465.3 257.6,466.0 258.4,459.3 252.3,458.6ZM257.4,466.0 263.5,466.7 264.2,460.0 258.1,459.3ZM252.3,458.9 258.4,459.7 259.1,453.0 253.1,452.3ZM293.6,456.7 299.7,457.1 300.2,450.5 294.1,450.0ZM299.4,457.1 305.5,457.6 305.9,450.9 299.9,450.4ZM305.2,457.6 311.3,458.0 311.7,451.3 305.7,450.9ZM242.3,444.8 248.3,445.6 249.1,438.9 243.2,438.2ZM294.1,450.3 300.1,450.8 300.7,444.1 294.6,443.6ZM299.9,450.7 305.9,451.2 306.4,444.5 300.4,444.1ZM305.6,451.2 311.7,451.6 312.1,444.9 306.1,444.5ZM311.4,451.6 317.5,452.0 317.9,445.3 311.9,444.9ZM317.2,451.9 323.2,452.3 323.6,445.6 317.6,445.3ZM323.0,452.3 329.0,452.6 329.4,445.9 323.3,445.6ZM192.0,430.6 197.9,431.6 199.0,425.0 193.1,424.0ZM283.2,442.9 289.2,443.5 289.7,436.8 283.8,436.3ZM288.9,443.4 294.9,443.9 295.4,437.3 289.5,436.8ZM294.6,443.9 300.6,444.4 301.1,437.7 295.2,437.3ZM300.4,444.4 306.4,444.8 306.8,438.2 300.9,437.7ZM306.1,444.8 312.1,445.2 312.5,438.5 306.6,438.1ZM311.8,445.2 317.8,445.6 318.3,438.9 312.3,438.5ZM317.6,445.6 323.6,445.9 324.0,439.2 318.0,438.9ZM323.3,445.9 329.3,446.2 329.7,439.5 323.7,439.2ZM289.4,437.1 295.4,437.6 296.0,430.9 290.0,430.4ZM295.1,437.6 301.1,438.0 301.6,431.4 295.7,430.9ZM300.8,438.0 306.8,438.5 307.3,431.8 301.4,431.4ZM306.5,438.4 312.5,438.9 313.0,432.2 307.0,431.8ZM318.0,439.2 323.9,439.5 324.3,432.9 318.4,432.5ZM323.7,439.5 329.7,439.8 330.0,433.2 324.0,432.9ZM273.0,429.1 278.9,429.7 279.6,423.1 273.7,422.5ZM290.0,430.7 295.9,431.2 296.5,424.6 290.6,424.1ZM295.7,431.2 301.6,431.7 302.1,425.1 296.2,424.6ZM301.3,431.7 307.3,432.1 307.7,425.5 301.8,425.0ZM307.0,432.1 312.9,432.5 313.4,425.9 307.5,425.5ZM318.3,432.8 324.3,433.2 324.7,426.5 318.7,426.2ZM324.0,433.2 330.0,433.5 330.3,426.8 324.4,426.5ZM273.7,422.8 279.6,423.4 280.2,416.8 274.4,416.2ZM279.3,423.4 285.2,423.9 285.8,417.3 279.9,416.7ZM284.9,423.9 290.8,424.4 291.4,417.8 285.5,417.3ZM290.5,424.4 296.4,424.9 297.0,418.3 291.1,417.8ZM296.2,424.9 302.1,425.4 302.6,418.7 296.7,418.3ZM301.8,425.3 307.7,425.8 308.2,419.1 302.3,418.7ZM307.5,425.8 313.4,426.2 313.8,419.5 307.9,419.1ZM318.7,426.5 324.6,426.8 325.0,420.2 319.1,419.9ZM324.4,426.8 330.3,427.1 330.6,420.5 324.7,420.2ZM274.3,416.5 280.2,417.1 280.8,410.5 275.0,409.9ZM279.9,417.1 285.8,417.6 286.4,411.0 280.6,410.4ZM285.5,417.6 291.4,418.1 291.9,411.5 286.1,411.0ZM291.1,418.1 297.0,418.6 297.5,412.0 291.7,411.5ZM296.7,418.6 302.6,419.0 303.1,412.4 297.2,411.9ZM302.3,419.0 308.2,419.4 308.6,412.8 302.8,412.4ZM307.9,419.4 313.8,419.8 314.2,413.2 308.4,412.8ZM219.6,403.0 225.4,403.9 226.4,397.3 220.6,396.4ZM225.1,403.8 230.9,404.7 231.9,398.1 226.1,397.3ZM275.0,410.2 280.8,410.8 281.4,404.2 275.7,403.6ZM280.5,410.7 286.4,411.3 287.0,404.7 281.2,404.1ZM286.1,411.3 291.9,411.8 292.5,405.2 286.7,404.7ZM291.7,411.8 297.5,412.3 298.0,405.6 292.2,405.2ZM297.2,412.2 303.1,412.7 303.6,406.1 297.8,405.6ZM302.8,412.7 308.6,413.1 309.1,406.5 303.3,406.1ZM308.4,413.1 314.2,413.5 314.6,406.9 308.8,406.5ZM313.9,413.5 319.8,413.8 320.2,407.2 314.4,406.9ZM215.1,395.8 220.8,396.8 221.9,390.2 216.2,389.3ZM220.6,396.7 226.3,397.6 227.3,391.0 221.6,390.2ZM226.1,397.6 231.8,398.4 232.8,391.9 227.1,391.0ZM270.1,403.3 275.9,403.9 276.6,397.3 270.8,396.7ZM275.6,403.9 281.4,404.5 282.1,397.9 276.3,397.3ZM281.1,404.4 286.9,405.0 287.5,398.4 281.8,397.8ZM286.7,405.0 292.5,405.5 293.0,398.9 287.3,398.4ZM292.2,405.5 298.0,406.0 298.5,399.3 292.8,398.9ZM297.7,405.9 303.5,406.4 304.0,399.8 298.3,399.3ZM303.3,406.4 309.1,406.8 309.5,400.2 303.8,399.8ZM308.8,406.8 314.6,407.2 315.0,400.6 309.3,400.2ZM314.3,407.2 320.2,407.5 320.6,400.9 314.8,400.5ZM216.1,389.6 221.8,390.5 222.8,384.0 217.2,383.1ZM221.6,390.5 227.3,391.3 228.3,384.8 222.6,383.9ZM227.0,391.3 232.7,392.2 233.7,385.6 228.0,384.8ZM270.8,397.0 276.5,397.6 277.2,391.0 271.5,390.4ZM276.3,397.6 282.0,398.2 282.7,391.6 277.0,391.0ZM281.8,398.1 287.5,398.7 288.1,392.1 282.4,391.5ZM287.3,398.7 293.0,399.2 293.6,392.6 287.9,392.1ZM292.8,399.2 298.5,399.6 299.1,393.0 293.3,392.6ZM298.3,399.6 304.0,400.1 304.5,393.5 298.8,393.0ZM303.8,400.1 309.5,400.5 310.0,393.9 304.3,393.5ZM309.3,400.5 315.0,400.9 315.5,394.3 309.7,393.9ZM314.8,400.8 320.5,401.2 320.9,394.6 315.2,394.2ZM206.3,381.5 212.0,382.5 213.1,376.0 207.4,375.0ZM211.7,382.5 217.4,383.4 218.4,376.9 212.8,375.9ZM217.1,383.4 222.8,384.3 223.8,377.7 218.2,376.8ZM222.5,384.2 228.2,385.1 229.2,378.6 223.6,377.7ZM228.0,385.1 233.6,385.9 234.6,379.4 229.0,378.5ZM271.5,390.7 277.2,391.3 277.9,384.7 272.2,384.1ZM276.9,391.3 282.6,391.9 283.3,385.3 277.6,384.7ZM282.4,391.9 288.1,392.4 288.7,385.8 283.0,385.3ZM287.8,392.4 293.6,392.9 294.1,386.3 288.5,385.8ZM298.8,393.3 304.5,393.8 305.0,387.2 299.3,386.7ZM304.2,393.8 310.0,394.2 310.4,387.6 304.7,387.2ZM309.7,394.2 315.4,394.6 315.9,388.0 310.2,387.6ZM315.2,394.5 320.9,394.9 321.3,388.3 315.6,387.9ZM191.3,372.4 196.9,373.4 198.1,366.9 192.5,365.9ZM196.7,373.4 202.3,374.4 203.4,367.9 197.9,366.9ZM218.1,377.1 223.8,378.0 224.8,371.5 219.2,370.6ZM223.5,378.0 229.2,378.9 230.2,372.3 224.5,371.5ZM272.2,384.4 277.8,385.0 278.5,378.5 272.9,377.9ZM277.6,385.0 283.3,385.6 283.9,379.0 278.3,378.4ZM283.0,385.6 288.7,386.1 289.3,379.5 283.6,379.0ZM288.4,386.1 294.1,386.6 294.7,380.0 289.0,379.5ZM293.9,386.6 299.5,387.1 300.1,380.5 294.4,380.0ZM299.3,387.0 305.0,387.5 305.5,380.9 299.8,380.4ZM304.7,387.5 310.4,387.9 310.9,381.3 305.2,380.9ZM310.2,387.9 315.9,388.3 316.3,381.7 310.6,381.3ZM315.6,388.2 321.3,388.6 321.7,382.0 316.0,381.6ZM192.5,366.2 198.1,367.2 199.3,360.7 193.7,359.7ZM197.8,367.2 203.4,368.2 204.5,361.7 199.0,360.7ZM267.4,377.6 273.1,378.2 273.8,371.6 268.2,371.0ZM272.8,378.2 278.5,378.8 279.2,372.2 273.5,371.6ZM278.2,378.7 283.9,379.3 284.5,372.7 278.9,372.2ZM283.6,379.3 289.3,379.8 289.9,373.3 284.3,372.7ZM289.0,379.8 294.7,380.3 295.2,373.7 289.6,373.2ZM294.4,380.3 300.1,380.8 300.6,374.2 295.0,373.7ZM299.8,380.7 305.5,381.2 306.0,374.6 300.3,374.2ZM305.2,381.2 310.9,381.6 311.3,375.0 305.7,374.6ZM310.6,381.6 316.3,382.0 316.7,375.4 311.1,375.0ZM204.2,362.0 209.8,362.9 210.9,356.4 205.4,355.5ZM209.5,362.9 215.1,363.8 216.2,357.3 210.7,356.4ZM214.8,363.8 220.4,364.7 221.5,358.2 215.9,357.3ZM289.6,373.5 295.2,374.0 295.8,367.5 290.2,367.0ZM294.9,374.0 300.6,374.5 301.1,367.9 295.5,367.4ZM300.3,374.5 305.9,374.9 306.4,368.3 300.9,367.9ZM305.7,374.9 311.3,375.3 311.8,368.7 306.2,368.3ZM189.6,352.8 195.1,353.9 196.3,347.4 190.8,346.3ZM205.3,355.8 210.9,356.7 212.0,350.2 206.5,349.3ZM210.6,356.7 216.1,357.6 217.2,351.1 211.7,350.2ZM215.9,357.6 221.4,358.5 222.5,352.0 217.0,351.1ZM290.2,367.3 295.8,367.8 296.3,361.2 290.8,360.7ZM295.5,367.7 301.1,368.2 301.6,361.6 296.1,361.2ZM300.8,368.2 306.4,368.6 306.9,362.1 301.4,361.6ZM306.2,368.6 311.8,369.0 312.2,362.4 306.7,362.0ZM169.9,342.3 175.4,343.5 176.8,337.0 171.3,335.9ZM175.1,343.4 180.6,344.6 181.9,338.1 176.5,337.0ZM190.8,346.6 196.2,347.7 197.5,341.2 192.0,340.2ZM196.0,347.6 201.5,348.7 202.7,342.2 197.2,341.2ZM201.2,348.6 206.7,349.6 207.9,343.1 202.4,342.1ZM211.7,350.5 217.2,351.4 218.3,344.9 212.8,344.0ZM216.9,351.4 222.4,352.3 223.5,345.8 218.0,344.9ZM227.4,353.1 232.9,353.9 233.9,347.4 228.5,346.6ZM290.7,361.0 296.3,361.5 296.9,354.9 291.4,354.4ZM296.0,361.5 301.6,361.9 302.1,355.4 296.6,354.9ZM301.3,361.9 306.9,362.4 307.4,355.8 301.9,355.3ZM306.6,362.3 312.2,362.7 312.7,356.2 307.1,355.8ZM171.3,336.2 176.7,337.3 178.1,330.9 172.7,329.7ZM176.4,337.3 181.9,338.4 183.2,332.0 177.8,330.8ZM192.0,340.5 197.4,341.5 198.6,335.0 193.2,334.0ZM197.2,341.5 202.6,342.5 203.8,336.0 198.4,335.0ZM202.4,342.4 207.8,343.4 209.0,336.9 203.6,335.9ZM212.8,344.3 218.2,345.2 219.3,338.7 213.9,337.8ZM218.0,345.2 223.4,346.1 224.5,339.6 219.1,338.7ZM223.2,346.0 228.7,346.9 229.7,340.4 224.3,339.5ZM291.3,354.7 296.8,355.2 297.4,348.7 291.9,348.2ZM296.6,355.2 302.1,355.7 302.6,349.1 297.2,348.6ZM301.9,355.6 307.4,356.1 307.9,349.5 302.4,349.1ZM317.7,356.8 323.2,357.2 323.6,350.6 318.1,350.2ZM333.5,357.7 339.0,358.0 339.3,351.4 333.8,351.2ZM198.3,335.3 203.8,336.3 204.9,329.8 199.6,328.8ZM291.9,348.5 297.4,349.0 298.0,342.4 292.5,341.9ZM297.1,348.9 302.6,349.4 303.2,342.8 297.7,342.4ZM302.4,349.4 307.9,349.8 308.4,343.2 302.9,342.8ZM194.4,328.1 199.8,329.1 201.0,322.7 195.7,321.7ZM199.5,329.1 204.9,330.1 206.1,323.6 200.7,322.6ZM204.6,330.1 210.0,331.0 211.2,324.6 205.8,323.6ZM292.5,342.2 297.9,342.7 298.5,336.1 293.1,335.7ZM297.7,342.7 303.1,343.1 303.7,336.6 298.3,336.1ZM302.9,343.1 308.3,343.5 308.8,337.0 303.4,336.6ZM334.1,345.2 339.6,345.4 339.9,338.9 334.5,338.6ZM293.1,336.0 298.5,336.4 299.1,329.9 293.7,329.4ZM298.2,336.4 303.6,336.9 304.2,330.3 298.8,329.9ZM303.4,336.9 308.8,337.3 309.3,330.7 303.9,330.3ZM298.8,330.2 304.2,330.6 304.7,324.1 299.4,323.6ZM303.9,330.6 309.3,331.0 309.8,324.5 304.4,324.0ZM319.3,331.7 324.7,332.1 325.1,325.5 319.8,325.2ZM319.7,325.5 325.1,325.8 325.5,319.2 320.2,318.9ZM326.0,307.0 331.2,307.3 331.6,300.7 326.4,300.4ZM331.0,307.3 336.2,307.6 336.6,301.0 331.4,300.7ZM336.0,307.6 341.3,307.8 341.6,301.2 336.3,301.0ZM326.4,300.7 331.6,301.0 331.9,294.5 326.8,294.2ZM331.3,301.0 336.6,301.3 336.9,294.7 331.7,294.5ZM336.3,301.3 341.5,301.5 341.8,295.0 336.7,294.7ZM326.7,294.5 331.9,294.8 332.3,288.2 327.1,287.9ZM331.7,294.8 336.9,295.0 337.2,288.5 332.1,288.2ZM336.6,295.0 341.8,295.3 342.1,288.7 337.0,288.4ZM327.1,288.2 332.3,288.5 332.6,281.9 327.5,281.6ZM332.0,288.5 337.2,288.8 337.5,282.2 332.4,281.9ZM337.0,288.7 342.1,289.0 342.4,282.4 337.3,282.2ZM327.5,281.9 332.6,282.2 333.0,275.7 327.9,275.4ZM332.4,282.2 337.5,282.5 337.8,275.9 332.8,275.6ZM337.3,282.5 342.4,282.7 342.7,276.1 337.6,275.9Z" fill="#fee6ce"/>
<path d="M247.3,451.9 253.3,452.6 254.1,446.0 248.1,445.2ZM248.0,445.5 254.1,446.3 254.9,439.6 248.9,438.9ZM222.2,352.2 227.7,353.1 228.7,346.6 223.2,345.7Z" fill="#fdd0a2"/>
<path d="M179.6,355.5 L182.8,356.4 L186.4,357.8 L190.1,359.6 L194.6,363.3 L198.3,366.9 L200.1,371.5 L200.6,376.0 L201.5,381.0 L196.5,382.4 L187.3,382.4 L180.1,380.6 L179.1,376.0 L178.7,371.5 L178.7,366.0 L179.1,360.5Z" fill="#cbdbf0"/>
<path d="M160.3,128.1 L163.0,128.9 L165.7,129.6 L168.4,130.4 L171.2,131.2 L173.9,131.9 L176.6,132.6 L179.3,133.4 L182.0,134.1 L184.8,134.8 L187.5,135.5 L190.2,136.2 L192.9,136.8 L195.7,137.5 L198.4,138.2 L201.2,138.8 L203.9,139.4 L206.6,140.1 L209.4,140.7 L212.1,141.3 L214.9,141.9 L217.6,142.5 L220.4,143.1 L223.1,143.6 L225.9,144.2 L228.7,144.7 L231.4,145.3 L234.2,145.8 L237.0,146.3 L239.7,146.8 L242.5,147.3 L245.3,147.8 L248.0,148.3 L250.8,148.8 L253.6,149.3 L256.4,149.7 L259.1,150.1 L261.9,150.6 L264.7,151.0 L267.5,151.4 L270.3,151.8 L273.1,152.2 L275.9,152.6 L278.6,153.0 L281.4,153.3 L284.2,153.7 L287.0,154.0 L289.8,154.4 L292.6,154.7 L295.4,155.0 L298.2,155.3 L301.0,155.6 L303.8,155.9 L306.6,156.2 L309.4,156.4 L312.2,156.7 L315.0,156.9 L317.8,157.2 L320.6,157.4 L323.4,157.6 L326.2,157.8 L329.0,158.0 L331.9,158.2 L334.7,158.4 L337.5,158.6 L340.3,158.7 L343.1,158.9 L345.9,159.0 L348.7,159.1 L351.5,159.2 L354.3,159.3 L357.2,159.4 L360.0,159.5 L362.8,159.6 L365.6,159.7 L368.4,159.7 L371.2,159.8 L374.0,159.8 L376.9,159.8 L379.7,159.9 L382.5,159.9 L385.3,159.9 L388.1,159.9 L390.9,159.8 M207.3,140.2 L206.3,144.2 L205.4,148.3 L204.5,152.3 L203.6,156.3 L202.7,160.3 L201.8,164.3 L200.8,168.3 L199.9,172.3 M199.8,177.8 L197.2,177.3 L194.7,176.7 L192.1,176.1 L189.6,175.5 L187.0,174.9 L184.5,174.3 L182.0,173.6 M192.7,204.5 L191.9,208.2 L191.0,212.0 L190.2,215.8 L189.3,219.5 L188.5,223.3 L187.6,227.0 M122.4,209.6 L125.4,210.5 L128.3,211.4 L131.3,212.3 L134.3,213.2 L137.2,214.1 L140.2,214.9 L143.2,215.8 L146.2,216.6 L149.1,217.4 L152.1,218.2 L155.1,219.0 L158.1,219.8 L161.1,220.6 L164.1,221.4 L167.1,222.1 L170.1,222.9 L173.1,223.6 L176.1,224.3 L179.1,225.0 L182.1,225.8 L185.2,226.5 L188.2,227.1 L191.2,227.8 L194.2,228.5 L197.2,229.1 L200.3,229.8 L203.3,230.4 L206.3,231.0 L209.4,231.6 L212.4,232.2 L215.4,232.8 L218.5,233.4 L221.5,234.0 L224.5,234.5 L227.6,235.1 L230.6,235.6 L233.7,236.2 L236.7,236.7 L239.8,237.2 L242.8,237.7 M160.5,220.4 L159.5,224.1 L158.6,227.7 L157.7,231.4 L156.7,235.1 L155.8,238.7 L154.8,242.4 L153.9,246.0 L152.9,249.7 L152.0,253.3 L151.0,257.0 L153.3,260.6 L155.6,264.2 L157.9,267.9 L160.2,271.5 L162.6,275.1 L164.9,278.7 L167.3,282.3 L169.8,285.9 L172.2,289.5 L174.7,293.1 L177.1,296.6 L179.7,300.2 L182.2,303.8 L184.7,307.3 L187.3,310.9 L189.9,314.4 L192.5,318.0 M215.2,232.8 L214.4,236.6 L213.7,240.5 L212.9,244.4 L212.1,248.2 L211.4,252.1 L210.6,256.0 L209.9,259.8 L209.1,263.7 L208.4,267.5 L207.6,271.4 L206.9,275.2 L206.1,279.1 L205.4,282.9 L204.6,286.8 L203.9,290.6 L203.1,294.5 L202.5,297.8 L201.9,301.1 L201.2,304.3 M215.4,142.0 L214.7,145.1 L214.0,148.3 L213.3,151.4 L212.7,154.5 M247.8,206.9 L247.1,210.8 L246.5,214.7 L245.9,218.7 L245.3,222.6 L244.6,226.5 L244.0,230.5 L243.4,234.4 L242.7,238.3 L242.1,242.3 L241.5,246.2 L240.8,250.1 M240.8,250.1 L243.9,250.6 L246.9,251.1 L249.9,251.5 L253.0,252.0 L256.0,252.4 L259.0,252.8 L262.1,253.3 L265.1,253.7 L268.1,254.1 L271.2,254.4 L274.2,254.8 L277.3,255.2 L280.3,255.5 L283.4,255.9 L286.4,256.2 L289.5,256.6 L292.5,256.9 L295.6,257.2 L298.6,257.5 L301.7,257.7 L304.7,258.0 L307.8,258.3 L310.8,258.5 L313.9,258.8 L316.9,259.0 L320.0,259.2 L323.1,259.4 L326.1,259.6 M248.8,200.2 L251.7,200.7 L254.5,201.1 L257.3,201.5 L260.2,202.0 L263.0,202.4 L265.8,202.8 L268.7,203.2 L271.5,203.5 L274.4,203.9 L277.2,204.3 L280.0,204.6 L282.9,205.0 L285.7,205.3 L288.6,205.6 L291.4,205.9 L294.3,206.3 L297.1,206.5 L300.0,206.8 L302.8,207.1 L305.7,207.4 L308.5,207.6 L311.4,207.9 M315.7,157.0 L315.4,161.1 L315.0,165.2 L314.7,169.3 L314.3,173.4 L314.0,177.4 L313.6,181.5 L313.3,185.6 L312.9,189.6 L312.6,193.7 L312.2,197.8 L311.9,201.8 L311.5,205.9 L311.2,209.9 L310.9,213.9 L310.5,218.0 L310.2,222.0 L309.8,226.1 L309.5,230.1 L309.1,234.1 L308.8,238.1 L308.5,242.2 L308.1,246.2 L307.8,250.2 L307.4,254.2 L307.1,258.2 M312.4,196.0 L315.3,196.2 L318.1,196.5 L321.0,196.7 L323.9,196.9 L326.8,197.1 L329.7,197.3 L332.6,197.5 L335.4,197.6 L338.3,197.8 L341.2,197.9 L344.1,198.1 L347.0,198.2 L349.9,198.3 L352.8,198.4 L355.7,198.5 L358.5,198.6 L361.4,198.7 L364.3,198.8 L367.2,198.8 L370.1,198.9 L373.0,198.9 L375.9,199.0 L378.8,199.0 M309.2,233.1 L312.2,233.4 L315.3,233.6 L318.3,233.8 L321.3,234.0 L324.3,234.3 L327.3,234.5 L330.4,234.6 L333.4,234.8 L336.4,235.0 L339.4,235.1 L342.4,235.3 L345.5,235.4 L348.5,235.6 L351.5,235.7 L354.5,235.8 L357.6,235.9 L360.6,236.0 M259.7,252.9 L259.2,256.9 L258.6,261.0 L258.0,265.0 L257.5,269.0 L256.9,273.0 L256.4,277.0 L255.8,281.0 L255.3,285.0 L254.7,289.0 L254.1,293.1 L253.6,297.1 L253.0,301.1 L252.5,305.1 L251.9,309.1 L251.4,313.1 L250.8,317.1 L250.3,321.1 L249.7,325.1 L249.1,329.1 L248.6,333.1 L248.0,337.2 L247.5,341.2 L246.9,345.2 L246.4,349.2 L245.8,353.2 L245.2,357.2 L244.7,361.2 L244.1,365.3 L243.6,369.3 L243.0,373.3 M203.1,294.5 L206.4,295.1 L209.7,295.7 L212.9,296.3 L216.2,296.9 L219.4,297.5 L222.7,298.0 L226.0,298.6 L229.3,299.1 L232.5,299.7 L235.8,300.2 L239.1,300.7 L242.4,301.2 L245.6,301.7 L248.9,302.2 L252.2,302.6 L255.5,303.1 L258.8,303.5 L262.1,304.0 L265.4,304.4 L268.6,304.8 L271.9,305.2 L275.2,305.6 L278.5,305.9 L281.8,306.3 L285.1,306.6 L288.4,307.0 L291.7,307.3 L295.0,307.6 L298.3,307.9 L301.6,308.2 L304.9,308.5 L308.2,308.8 L311.5,309.0 L314.8,309.3 L318.2,309.5 L321.5,309.7 L324.8,309.9 L328.1,310.1 L331.4,310.3 L334.7,310.5 L338.0,310.6 L341.3,310.8 L344.6,310.9 L348.0,311.1 L351.3,311.2 L354.6,311.3 L357.9,311.4 L361.2,311.5 L364.5,311.5 L367.8,311.6 L371.2,311.7 L374.5,311.7 L377.8,311.7 L381.1,311.7 L384.4,311.7 L387.7,311.7 L391.1,311.7 L394.4,311.7 L397.7,311.6 M326.1,259.6 L325.9,263.5 L325.6,267.4 L325.4,271.2 L325.1,275.1 L324.9,279.0 L324.6,282.8 L324.4,286.7 L324.1,290.5 L323.9,294.4 L323.6,298.2 L323.4,302.1 L323.2,305.9 L322.9,309.8 M325.3,272.2 L328.4,272.4 L331.5,272.6 L334.6,272.7 L337.7,272.9 L340.8,273.1 L343.9,273.2 L347.0,273.3 L350.1,273.4 L353.2,273.5 L356.3,273.6 L359.4,273.7 L362.5,273.8 L365.6,273.9 L368.7,273.9 L371.8,274.0 L374.9,274.0 L378.0,274.0 L381.1,274.0 L384.2,274.0 L387.3,274.0 L390.4,274.0 M313.4,309.1 L312.9,312.3 L312.5,315.4 L312.2,319.4 L311.9,323.4 L311.6,327.4 L311.2,331.5 L310.9,335.5 L310.6,339.5 L310.3,343.5 L310.0,347.6 L309.7,351.6 L309.4,355.6 L309.0,359.7 L308.7,363.7 L308.4,367.7 L308.1,371.8 M312.5,315.4 L315.6,315.6 L318.6,315.8 L321.7,316.0 L324.8,316.2 L327.9,316.4 L331.0,316.6 L334.0,316.7 L337.1,316.9 L340.2,317.0 L343.3,317.2 L343.1,321.2 L342.9,325.3 L342.7,329.3 L342.6,333.4 L342.4,337.4 L342.2,341.5 M308.1,371.8 L304.6,371.5 L301.2,371.2 L297.7,370.9 L294.2,370.6 L290.8,370.3 L287.3,370.0 L283.9,369.7 L280.4,369.3 L277.0,369.0 L273.5,368.6 L270.1,368.2 M270.7,371.1 L267.7,370.7 L264.7,370.4 L261.7,370.0 L258.7,369.7 L255.7,369.3 L252.8,368.9 L252.4,371.7 L252.0,374.5 L248.6,374.1 L245.2,373.6 L241.8,373.1 L238.4,372.7 L235.0,372.2 L231.6,371.7 L228.2,371.2 L224.8,370.6 L221.4,370.1 L218.3,368.3 L215.1,366.6 L212.0,364.8 L208.9,363.1 L205.8,361.3 L202.7,359.5 L199.7,357.7 L196.6,355.9 L193.5,354.1 L190.5,352.2 L187.5,350.4 L184.4,348.5 M186.0,345.9 L182.8,345.6 L179.6,345.2 L176.4,344.9 L173.2,344.5 L170.0,344.1 L166.8,343.7 L163.6,343.3 L160.5,342.9 M397.4,285.1 L397.4,289.2 L397.5,293.3 L397.5,297.4 L397.6,301.5 L397.6,305.6 L397.7,309.7 L397.7,313.8 L397.8,317.9 M397.8,317.9 L401.0,317.8 L404.2,317.8 L407.5,317.7 L410.7,317.6 L414.0,317.5 L417.2,317.4 L420.4,317.3 L423.7,317.2 L426.9,317.0 L430.1,316.9 L433.4,316.7 L436.6,316.5 L439.8,316.3 L443.0,316.1 M397.8,317.9 L398.3,321.4 L398.9,324.9 L399.4,328.3 L399.9,331.8 L399.9,335.5 L399.9,339.1 L399.9,342.8 L399.8,346.5 L399.8,350.1 L399.8,353.8 M404.4,354.8 L404.5,358.8 L404.6,362.7 L404.7,366.6 L404.8,370.5 L404.9,374.5 M404.6,361.5 L408.0,361.5 L411.3,361.4 L414.7,361.3 L418.1,361.2 L421.5,361.1 L424.9,361.0 L428.2,360.9 L431.6,360.8 L435.0,360.6 M431.3,386.1 L434.7,385.9 L438.2,385.7 L441.6,385.5 L445.0,385.3 L448.5,385.1 L451.9,384.9 M379.6,229.9 L382.6,229.9 L385.6,229.9 L388.6,229.9 L391.6,229.9 L394.7,229.9 L397.7,229.8 L400.7,229.8 L403.7,229.7 L406.7,229.6 L409.7,229.5 L412.7,229.4 L415.7,229.3 L418.7,229.2 L421.7,229.1 L424.7,229.0 L427.7,228.8 M379.7,207.1 L379.7,210.9 L379.7,214.7 L379.7,218.5 L379.6,222.3 L379.6,226.1 L379.6,229.9 M386.0,266.7 L389.0,266.7 L391.9,266.7 L394.9,266.6 L397.9,266.5 L400.9,266.4 L403.9,266.3 L406.8,266.2 L409.8,266.1 L412.8,266.0 L415.8,265.9 L418.7,265.7 L421.7,265.6 L424.7,265.4 M442.7,335.0 L446.0,334.8 L449.4,334.6 L452.8,334.4 L456.1,334.1 L459.5,333.9 L462.9,333.6 L466.2,333.3 L469.6,333.0 L473.0,332.7 L476.3,332.4 L479.7,332.1 L483.1,331.7 L486.4,331.4 L489.8,331.0 L493.1,330.7 L496.5,330.3 L499.8,329.9 L503.2,329.5 L506.5,329.0 L509.9,328.6 L513.2,328.2 L516.6,327.7 M450.4,315.7 L453.2,315.5 L456.0,315.3 L458.7,315.0 L461.5,314.8 L464.3,314.6 L464.1,313.5 L463.9,312.4 L467.0,312.2 L470.2,311.9 L473.4,311.7 L476.5,311.5 L479.7,311.2 L482.9,311.0 L486.0,310.7 L489.2,310.5 L492.3,310.2 L495.5,309.9 L498.7,309.6 L501.8,309.2 L505.0,308.9 L508.1,308.6 L511.0,308.2 L513.9,307.8 L516.7,307.5 L519.6,307.1 L522.5,306.7 L525.3,306.3 L528.2,305.9 M528.2,305.9 L531.4,305.4 L534.7,304.9 L537.9,304.4 L541.1,303.9 L544.3,303.4 L547.6,302.9 L550.8,302.3 L554.0,301.8 L557.2,301.2 L560.5,300.6 L563.7,300.0 L566.9,299.5 L570.1,298.8 L573.3,298.2 L576.5,297.6 L579.7,297.0 L582.9,296.3 L586.1,295.7 M464.3,333.5 L464.9,334.1 L465.5,334.6 L465.4,338.4 L465.3,342.2 L465.2,346.0 L465.2,349.8 L465.1,353.6 L465.0,357.4 L464.9,361.2 L464.8,365.0 L464.7,368.8 L464.7,372.6 L465.1,376.4 L465.6,380.2 L466.0,384.0 L466.5,387.8 L467.0,391.6 M491.0,330.9 L492.0,334.6 L493.1,338.4 L494.1,342.1 L495.2,345.8 L496.3,349.5 L497.4,353.3 L498.4,357.0 M475.0,383.1 L478.5,382.8 L482.0,382.4 L485.5,382.1 L489.0,381.7 L492.6,381.4 L496.1,381.0 L499.6,380.6 L503.1,380.2 M505.0,383.6 L508.6,383.4 L512.3,383.2 L515.9,383.0 L519.5,382.7 L523.1,382.4 L526.7,382.2 L530.3,381.9 L533.9,381.6 M433.8,241.0 L436.7,240.9 L439.7,240.7 L442.6,240.5 L445.5,240.4 L448.5,240.2 L451.4,240.0 L454.4,239.8 L457.3,239.6 L460.2,239.3 M463.6,248.3 L463.9,252.1 L464.3,255.8 L464.6,259.6 L464.9,263.4 L465.3,267.2 L465.6,270.9 L466.0,274.7 L466.3,278.5 M466.6,248.0 L469.4,247.7 L472.2,247.5 L475.0,247.2 L477.8,246.9 L480.7,246.6 L483.5,246.3 L486.3,245.9 L489.1,245.6 L489.1,246.0 L489.2,246.4 L491.7,246.0 L494.3,245.6 L496.8,245.2 L499.3,244.8 L501.9,244.4 M489.2,246.4 L489.7,250.4 L490.1,254.5 L490.6,258.5 L491.1,262.6 L491.5,266.6 L492.0,270.6 L492.5,274.7 L493.0,278.7 M528.7,236.9 L529.3,241.0 L530.0,245.0 L530.7,249.1 L531.4,253.1 L532.0,257.1 L532.7,261.2 L533.4,265.2 M533.4,265.2 L536.4,264.7 L539.4,264.2 L542.4,263.7 L545.4,263.1 L548.4,262.6 L551.5,262.0 L554.5,261.5 L557.5,260.9 L560.5,260.3 L563.5,259.7 L566.5,259.1 L569.5,258.5 L572.5,257.9 L575.5,257.2 L578.5,256.6 M535.1,232.4 L535.4,234.0 L535.7,235.7 L538.6,235.2 L541.5,234.7 L544.4,234.2 L547.3,233.6 L550.3,233.1 L553.2,232.5 L556.1,231.9 L559.0,231.4 L561.8,230.8 L564.7,230.2 L567.6,229.6 L570.5,228.9 L573.4,228.3 L576.3,227.7 M585.6,186.4 L586.4,189.9 L587.2,193.4 L588.0,196.9 L588.8,200.4 L589.5,203.8 L590.3,204.2 L591.0,204.5 L591.7,207.7 L592.5,210.8 L593.2,214.0 L593.2,217.0 L593.1,220.1 L593.1,223.1 L594.0,226.6 L594.9,230.0 L595.8,233.5 L594.8,234.4 L593.9,235.2 L594.4,235.8 L594.9,236.3 M573.9,189.3 L576.7,188.7 L579.5,188.0 L582.3,187.3 L585.1,186.6 L587.8,185.9 L590.6,185.2 L593.4,184.5 L596.2,183.8 L599.0,183.0 L601.8,182.3 M593.2,214.0 L596.2,213.4 L599.2,212.7 L602.1,212.1 L605.1,211.4 L608.1,210.7 L611.1,210.1 L613.0,208.4 L614.8,206.8 M593.2,223.1 L595.8,222.5 L598.4,221.9 L601.0,221.4 L603.6,220.8 L606.2,220.2 L608.8,219.5 L610.7,219.0 L612.6,218.5 M601.8,182.3 L601.6,184.0 L601.5,185.8 L600.6,189.9 L599.8,194.0 L599.4,197.7 L599.0,201.5 L599.3,205.3 L599.7,209.1 L600.1,210.8 L600.5,212.4 M604.5,177.8 L605.6,181.2 L606.7,184.6 L607.8,188.0 L608.9,191.5 L610.0,194.9 L611.1,198.3 L613.2,201.2 L615.2,204.1 M443.0,316.1 L442.1,319.4 L441.2,322.6 L443.5,322.4 L445.7,322.3 L448.0,322.1 M516.6,327.7 L518.9,326.5 L521.2,325.4 L523.5,324.2 L526.3,323.9 L529.1,323.6 L531.9,323.3 L534.7,323.0 L537.5,322.7 L538.1,322.9 L538.7,323.1 L539.7,324.8 L540.8,326.4 L543.6,326.0 L546.4,325.6 L549.2,325.1 L552.0,324.7 L555.5,327.1 L558.9,329.6 L562.4,332.0 L565.9,334.3 M528.2,305.9 L526.9,309.0 L525.6,312.2 L522.8,313.4 L520.0,314.6 L517.7,316.3 L515.4,318.1 L513.5,319.7 L511.7,321.3 L509.1,322.6 L506.6,323.8 L505.4,326.6 L504.2,329.3 M140.3,158.4 L144.6,159.6 L147.6,161.3 L148.8,165.6 L150.6,169.0 L154.8,170.2 L160.0,172.1 L165.1,173.3 L173.7,173.8 L184.0,174.3 L190.8,175.2 L197.7,176.9 L199.7,177.6 M203.0,158.7 L200.3,172.4 L200.3,177.6 L202.0,181.0 L197.7,187.8 L193.4,194.7 L192.9,201.5 L191.7,208.9 M214.1,142.4 L212.9,153.9 L214.7,160.4 L217.1,164.7 L220.1,169.3 L223.6,174.6 L221.3,179.3 L219.5,184.4 L220.1,187.8 L223.2,187.0 L226.1,191.3 L228.7,198.1 L230.4,204.1 L234.7,203.3 L239.8,204.1 L244.1,202.4 L246.2,205.3 L247.2,208.9 M390.0,159.9 L390.0,155.3 L392.9,155.3 L393.4,159.6 L396.0,163.0 L400.3,164.7 L403.7,163.8 L407.1,165.6 L411.4,164.7 L415.7,168.1 L420.8,169.8 L426.0,169.0 L433.0,169.3 M373.2,159.9 L373.7,167.3 L375.4,174.1 L376.3,181.0 L377.1,187.8 L378.0,194.7 L378.3,198.1 L377.6,202.4 L375.9,205.0 L378.0,208.9 M419.1,188.7 L416.5,189.5 L414.8,194.7 L412.8,198.1 L411.9,205.0 L411.4,208.9 M359.1,236.4 L363.4,237.3 L366.8,238.1 L371.1,237.8 L375.4,239.5 L377.6,240.7 L379.7,245.8 L381.8,251.0 L383.1,256.1 L384.5,261.3 L385.7,266.4 L386.6,268.1 L388.6,273.8 L391.7,276.7 L393.4,279.3 L393.1,281.0 L396.0,283.6 L396.5,286.1 M378.8,209.0 L378.8,219.3 L378.3,226.1 L378.3,229.9 L377.6,234.7 L377.1,239.0 L377.6,240.7 M386.6,267.8 L426.0,265.6 L427.7,269.0 L430.3,272.1 L433.0,274.1 M411.4,205.6 L412.3,209.0 L414.8,215.0 L420.8,220.1 L425.6,226.1 L427.7,232.1 L430.3,236.4 L433.0,238.1 M430.3,238.1 L433.0,239.8 L436.4,243.3 L437.3,248.4 L434.7,253.6 L433.0,255.3 L430.9,260.4 L429.6,265.6 L430.4,272.4 L433.0,277.6 L436.4,282.7 L439.9,287.8 L440.7,293.0 L443.3,298.1 L448.4,303.3 L451.9,306.7 L455.3,308.9 M531.4,251.8 L530.3,257.8 L531.0,263.8 L529.0,270.4 L525.5,275.0 L523.0,279.3 L520.4,284.4 L517.0,287.8 L513.5,284.4 L510.1,281.8 L505.0,282.7 L501.6,281.0 L497.3,279.3 L493.3,278.4 L491.3,282.7 L487.8,285.3 L484.4,289.5 L481.0,293.0 L477.6,292.1 L474.1,294.7 L469.8,297.3 L466.4,296.4 L463.0,298.1 L460.4,302.4 L457.0,308.9 M466.4,286.1 L464.7,291.3 L463.5,296.4 L461.3,302.4 L458.7,306.7 L457.0,308.9 M517.0,287.8 L518.7,291.3 L522.1,294.7 L526.4,296.4 L529.0,298.1 M342.0,341.6 L346.3,343.3 L349.7,345.8 L353.1,346.7 L356.6,347.6 L360.8,349.3 L363.4,351.0 L366.8,350.1 L371.1,351.8 L375.4,351.0 L379.7,351.8 L384.0,350.1 L388.3,349.8 L393.4,351.0 L397.7,352.7 L402.0,354.4 L403.7,355.3 L404.2,360.4 L404.5,374.1 L406.3,377.6 L408.0,382.7 L408.8,387.8 L409.7,393.0 L408.8,398.1 L409.2,402.9 M450.1,308.1 L447.6,312.4 L445.9,315.9 L445.0,321.0 L440.7,321.9 L443.3,327.9 L444.1,335.0 L443.3,339.8 L440.7,345.0 L438.1,350.1 L435.6,355.3 L434.7,360.4 L436.4,365.6 L435.6,370.7 L433.9,375.0 L433.0,377.6 L431.3,382.7 L433.0,386.1 M451.0,385.3 L451.9,389.5 L452.7,393.8 L453.6,396.4 M515.3,328.7 L519.5,333.9 L524.7,339.0 L529.0,343.3 L534.1,349.3 L538.4,354.4 L541.8,359.6 L544.7,362.5 M500.7,360.4 L501.6,367.3 L500.7,372.4 L502.4,377.6 L504.1,382.7 M534.1,381.8 L535.8,384.4 L537.5,381.0 L540.1,377.6 L542.7,376.7 M475.0,383.6 L475.8,389.5 M269.5,368.6 L273.3,374.1 L278.4,381.0 L283.5,386.1 L287.0,391.3 L288.7,398.1 M288.7,398.2 L291.7,399.5 L296.4,404.0 L302.8,408.9 L307.1,405.0 L312.5,399.7 L320.0,400.3 L325.3,401.8 L329.6,409.3 L333.9,417.9 L339.3,425.4 L343.6,431.9 L347.9,443.7 L354.3,446.9 L362.9,449.7 L369.3,451.2 M203.9,292.4 L199.6,295.6 L198.5,303.2 L194.2,305.3 L192.1,317.1 L194.9,324.6 L193.2,328.9 L188.9,332.1 L187.8,339.6 L185.6,346.5 M601.2,181.0 L603.5,178.7 L606.9,175.4 L607.4,169.7 L608.6,161.9 L610.2,154.0 L611.9,146.7 L614.2,148.4 L617.0,146.7 L620.4,145.6 L626.0,148.4 L627.1,154.0 L629.4,159.6 L632.2,164.1 L635.0,165.2 L636.1,168.6 L639.5,170.9 L641.2,173.7 M572.0,188.7 L568.6,193.0 L565.1,198.1 L561.7,201.5 M542.9,264.5 L543.5,268.5 L545.5,267.1 L547.6,265.1 L550.2,266.5 L552.9,265.8 L554.9,263.8 L556.9,263.1 L560.3,265.1 L563.7,267.8 L567.0,270.5 L569.0,273.8 L571.0,275.2 L573.0,278.5 L575.7,280.1 L578.4,280.9 M560.3,265.1 L556.9,267.1 L554.3,269.8 L551.6,273.8 L548.9,277.2 L546.2,279.2 L543.5,280.5 L541.5,283.9 L540.2,287.9 L537.5,291.3 L533.5,293.3 L530.1,296.0 L526.1,296.6 L522.7,300.0 L518.0,304.0 L514.0,307.4 L510.0,310.1 M517.0,287.8 L518.0,289.3 L522.7,292.6 L526.1,296.6 M583.1,253.0 L585.1,273.2 L589.1,272.5 M577.7,254.4 L575.7,256.4 L573.3,261.1 L572.5,267.1 L574.4,271.8 L577.1,275.9 L579.8,279.9 L582.4,285.2 L584.0,289.5 M579.8,255.7 L580.4,262.4 L581.8,268.5 L583.1,273.8 L583.8,278.5 L585.1,283.2 M569.0,277.9 L574.4,281.9 L579.8,285.2 M570.4,288.2 L577.1,289.9 L583.1,291.9 M585.1,294.9 L589.1,298.7 L592.1,304.0 L592.9,308.0 L590.5,312.1 L587.5,314.8 L585.1,318.1 M577.7,301.3 L582.4,302.0 L587.8,304.0 L585.1,306.0 L579.8,304.7 M577.1,310.7 L581.1,312.1 L585.1,314.1 L583.1,316.1 L578.4,314.8 M588.8,263.8 L586.6,261.3 L584.0,258.7 L582.3,255.3 L584.8,251.8 L586.6,247.6 L584.8,243.3 L583.1,239.0 L584.8,234.7 M576.7,227.2 L580.1,230.1 L581.4,233.2 L583.4,234.6 L581.4,239.3 L582.7,243.3 L586.1,247.3 L587.4,251.3 L584.8,254.0 L582.1,256.0 L581.4,258.0 M583.4,234.6 L592.1,238.6 M610.2,219.1 L610.9,226.1 L613.6,225.2 L614.5,221.8 M433.7,189.1 L436.8,192.5 L440.8,194.5 L446.2,196.5 L450.9,197.2 L453.6,199.2 L455.6,203.2 L457.6,206.6 L458.3,209.9 L456.5,212.2 M418.0,188.5 L414.7,191.8 L413.3,196.5 L412.0,202.6 L410.7,206.6 M410.0,207.9 L412.0,210.6 L414.7,214.6 L418.7,218.7 L424.1,222.7 L426.8,226.7 L428.8,232.1 L430.8,237.4 L434.8,241.5 L436.8,245.5 L438.2,250.8 M509.8,226.7 L507.5,232.1 L506.2,237.4 L505.8,241.5 M505.8,244.8 L504.5,246.8 M541.0,222.7 L540.4,220.7 L539.0,219.3 M563.8,201.9 L565.8,197.2 L568.5,192.5 L571.2,189.1 M160.8,129.2 L159.6,131.3 L156.6,133.0 L153.1,132.3 L147.1,130.9 L141.5,131.3 L141.1,136.4 L142.2,143.3 L142.5,149.3 L140.8,151.8 L141.6,154.4 L140.3,158.4 L139.4,162.1 L137.7,167.3 L135.1,173.3 L132.9,179.3 L130.0,186.1 L126.6,193.0 L123.6,198.1 L122.3,203.3 L121.1,208.9 L119.7,215.9 L117.1,221.9 L114.6,228.7 L115.4,233.0 L116.3,238.1 L115.9,244.1 L117.1,250.1 L118.8,256.1 L119.7,260.4 L122.3,262.1 L123.1,268.1 L122.3,272.4 L124.8,277.6 L124.0,282.7 L126.0,287.8 L128.3,294.7 L130.0,301.5 L131.2,308.9 L133.4,310.7 L139.4,312.4 L144.6,316.7 L148.8,321.0 L152.3,324.4 L155.7,327.9 L158.3,333.0 L160.0,338.1 L161.4,342.9 M369.4,450.6 L368.6,443.3 L367.7,436.4 L369.4,431.3 L372.8,426.1 L377.1,421.9 L381.4,418.4 L386.6,415.9 L391.7,412.4 L396.8,409.0 L395.1,408.9 L396.0,404.6 L398.5,403.3 L403.7,402.7 L408.8,403.3 L414.0,401.9 L420.8,402.7 L427.7,403.3 L433.0,402.7 L433.0,404.9 L436.4,407.4 L440.7,408.3 L445.0,405.7 L449.3,407.1 L453.6,406.0 L458.7,408.8 L461.3,405.7 L457.9,403.7 L456.1,400.2 L459.6,398.5 L462.1,400.2 L463.0,395.8 L466.4,392.9 L469.8,389.4 L471.6,392.0 L475.0,388.2 L477.6,389.6 L482.7,388.6 L487.8,389.4 L493.0,390.3 L497.3,392.0 L499.8,395.4 L503.3,398.0 L506.7,397.1 L509.3,393.7 L511.8,392.0 L517.0,391.1 L520.4,393.7 L524.7,397.1 L528.1,401.4 L531.5,405.7 L532.4,410.8 L533.3,416.0 L535.8,416.8 L535.0,420.3 L537.5,423.7 L540.1,428.0 L542.7,431.4 L545.3,434.8 L548.0,437.4 L550.0,441.5 L555.4,446.9 L559.7,448.0 L561.8,446.9 L565.5,441.5 L566.1,432.9 L564.0,424.4 L559.7,415.8 L555.4,407.2 L552.2,400.8 L547.9,392.2 L543.6,383.6 L541.5,375.0 L542.7,370.7 L543.5,365.6 L545.3,360.4 L548.0,355.3 L548.0,355.3 L551.4,352.7 L554.9,349.3 L558.3,345.0 L561.7,339.8 L565.1,334.7 L571.1,331.3 L573.7,326.1 L577.1,321.9 L582.3,319.3 L585.7,316.7 L590.0,313.3 L593.4,309.0 L590.8,308.9 L589.1,305.0 L586.6,299.8 L584.8,294.7 L583.1,290.9 L584.3,288.7 L585.7,285.3 L587.4,281.0 L588.3,277.6 L588.8,274.1 L588.3,269.8 L586.6,265.6 L588.8,263.8 L590.5,260.4 L592.9,256.1 L594.3,251.0 L593.9,245.8 L593.4,241.6 L592.1,238.6 L594.8,236.6 L599.5,233.9 L604.9,230.9 L608.9,228.5 L611.6,227.2 L614.9,225.2 L617.6,223.8 L620.3,221.8 L623.0,220.5 L625.0,218.9 L623.0,217.1 L618.3,216.5 L615.6,212.4 L616.9,208.4 L614.9,205.1 L616.3,200.4 L618.3,195.0 L615.7,208.9 L616.6,201.5 L619.1,196.4 L621.7,193.0 L625.1,189.5 L626.0,184.4 L628.5,185.3 L630.3,182.7 L633.7,181.0 L637.1,177.6 L641.4,175.0" fill="none" stroke="#000" stroke-width="1.55" stroke-linejoin="round" stroke-linecap="round"/><path d="M550.0,456.1 L554.3,454.4 L559.7,450.5 L564.0,446.2" fill="none" stroke="#000" stroke-width="1.3" stroke-dasharray="1.6,1.2"/><path d="M156.6,130.9 L159.6,130.9 L160.7,138.1 L160.0,143.3 L157.9,147.6 L155.7,151.0 L152.3,151.0 L151.4,148.1 L154.0,145.3 L156.6,144.1 L157.9,139.8 L157.6,134.7Z M122.3,262.1 L133.4,263.2 L133.4,264.5 L125.4,264.5 L125.4,269.0 L123.3,269.0Z M130.8,315.5 L133.9,315.5 L133.9,317.6 L130.8,317.6Z M134.6,316.5 L139.4,316.5 L139.4,318.3 L134.6,318.3Z M136.3,326.8 L138.7,326.8 L138.7,328.9 L136.3,328.9Z M147.6,327.9 L150.0,327.9 L150.0,330.6 L147.6,330.6Z M145.9,333.3 L148.3,333.3 L148.3,336.4 L145.9,336.4Z M447.5,184.5 L449.6,180.4 L452.2,177.7 L455.6,176.8 L455.2,178.4 L452.2,180.4 L450.9,183.8Z M441.2,171.7 L447.5,168.2 L448.5,169.0 L442.2,172.8Z M470.4,170.9 L473.3,170.9 L473.3,172.1 L470.4,172.1Z M455.2,212.2 L463.6,200.9 L465.4,201.5 L457.1,213.6Z M475.6,196.1 L477.5,196.1 L477.5,198.5 L475.6,198.5Z M476.4,204.6 L478.7,203.6 L479.1,208.6 L477.2,209.3Z M512.2,198.3 L515.1,197.7 L520.2,201.2 L520.9,204.7 L518.9,205.0 L516.2,201.5 L512.9,200.1Z M552.4,205.2 L557.1,204.2 L558.1,206.6 L553.5,207.9Z M622.3,215.1 L625.7,216.2 L627.1,219.8 L625.3,220.5 L624.3,217.8 L622.0,216.5Z M619.0,223.7 L621.1,223.7 L621.1,225.3 L619.0,225.3Z M625.3,222.8 L627.4,222.8 L627.4,224.2 L625.3,224.2Z" fill="#000"/>
<path d="M181.2,718.6 L182.9,706.8 L184.7,695.2 L186.4,683.6 L188.1,672.1 L189.8,660.6 L191.5,649.3 L193.2,638.0 L194.9,626.8 L196.5,615.6 L198.2,604.5 L199.8,593.5 L201.5,582.5 L203.1,571.6 L204.7,560.7 L206.3,549.9 L207.9,539.2 L209.5,528.5 L211.1,517.8 L212.7,507.2 L214.3,496.6 L215.8,486.0 L217.4,475.5 L219.0,465.0 L220.5,454.6 L222.1,444.1 L223.6,433.8 L225.2,423.4 L226.7,413.0 L228.2,402.7 L229.8,392.4 L231.3,382.1 L232.8,371.9 L234.4,361.6 L235.9,351.4 L237.4,341.1 L238.9,330.9 L240.5,320.7 L242.0,310.5 L243.5,300.3 L245.0,290.0 L246.5,279.8 L248.1,269.6 L249.6,259.4 L251.1,249.1 L252.6,238.9 L254.2,228.6 L255.7,218.3 L257.2,208.0 L258.8,197.7 L260.3,187.3 L261.9,177.0 L263.4,166.6 L265.0,156.1 L266.5,145.7 L268.1,135.2 L269.7,124.6 L271.2,114.0 L272.8,103.4 L274.4,92.7 L276.0,82.0 L277.6,71.2 L279.2,60.4 L280.9,49.5 L282.5,38.5 L284.1,27.4 L285.8,16.3 L287.5,5.1 L289.2,-6.2 L290.8,-17.6 L292.6,-29.1 L294.3,-40.7 L296.0,-52.3 L297.8,-64.2 L299.6,-76.1 L301.4,-88.1 L303.2,-100.3 L305.0,-112.7 L306.9,-125.2 L308.8,-137.9 M325.8,732.4 L326.3,720.5 L326.8,708.7 L327.3,697.0 L327.8,685.4 L328.3,673.8 L328.8,662.3 L329.2,650.9 L329.7,639.6 L330.2,628.3 L330.7,617.1 L331.1,606.0 L331.6,594.9 L332.1,583.9 L332.5,572.9 L333.0,562.0 L333.4,551.1 L333.9,540.3 L334.3,529.5 L334.8,518.8 L335.2,508.1 L335.7,497.4 L336.1,486.8 L336.6,476.2 L337.0,465.7 L337.5,455.1 L337.9,444.6 L338.3,434.2 L338.8,423.7 L339.2,413.3 L339.7,402.9 L340.1,392.5 L340.5,382.1 L341.0,371.8 L341.4,361.4 L341.8,351.1 L342.3,340.7 L342.7,330.4 L343.1,320.1 L343.6,309.8 L344.0,299.5 L344.4,289.1 L344.9,278.8 L345.3,268.5 L345.7,258.1 L346.2,247.8 L346.6,237.4 L347.0,227.0 L347.5,216.6 L347.9,206.2 L348.4,195.7 L348.8,185.3 L349.2,174.7 L349.7,164.2 L350.1,153.6 L350.6,143.0 L351.0,132.4 L351.5,121.7 L351.9,110.9 L352.4,100.2 L352.8,89.3 L353.3,78.4 L353.8,67.5 L354.2,56.4 L354.7,45.3 L355.1,34.2 L355.6,22.9 L356.1,11.6 L356.6,0.2 L357.1,-11.3 L357.5,-22.9 L358.0,-34.6 L358.5,-46.4 L359.0,-58.3 L359.5,-70.4 L360.1,-82.6 L360.6,-94.9 L361.1,-107.3 L361.6,-120.0 L362.2,-132.8 M471.1,730.8 L470.3,718.9 L469.6,707.1 L468.8,695.4 L468.1,683.8 L467.4,672.3 L466.6,660.8 L465.9,649.4 L465.2,638.1 L464.5,626.9 L463.7,615.7 L463.0,604.6 L462.3,593.5 L461.6,582.5 L460.9,571.5 L460.2,560.6 L459.5,549.7 L458.8,538.9 L458.1,528.2 L457.4,517.4 L456.8,506.7 L456.1,496.1 L455.4,485.5 L454.7,474.9 L454.1,464.4 L453.4,453.9 L452.7,443.4 L452.0,432.9 L451.4,422.5 L450.7,412.1 L450.0,401.7 L449.4,391.3 L448.7,380.9 L448.0,370.6 L447.4,360.3 L446.7,349.9 L446.1,339.6 L445.4,329.3 L444.7,319.0 L444.1,308.7 L443.4,298.4 L442.8,288.1 L442.1,277.7 L441.4,267.4 L440.8,257.1 L440.1,246.7 L439.5,236.4 L438.8,226.0 L438.1,215.6 L437.5,205.2 L436.8,194.8 L436.1,184.3 L435.5,173.8 L434.8,163.3 L434.1,152.7 L433.4,142.1 L432.7,131.5 L432.1,120.8 L431.4,110.1 L430.7,99.3 L430.0,88.5 L429.3,77.6 L428.6,66.6 L427.9,55.6 L427.2,44.6 L426.5,33.4 L425.8,22.2 L425.0,10.9 L424.3,-0.5 L423.6,-12.0 L422.8,-23.6 L422.1,-35.3 L421.3,-47.1 L420.6,-59.0 L419.8,-71.0 L419.0,-83.2 L418.2,-95.5 L417.4,-108.0 L416.6,-120.6 L415.8,-133.4 M615.4,713.8 L613.4,702.1 L611.4,690.5 L609.4,678.9 L607.5,667.5 L605.5,656.1 L603.6,644.8 L601.6,633.5 L599.7,622.3 L597.8,611.2 L595.9,600.2 L594.0,589.2 L592.2,578.2 L590.3,567.4 L588.4,556.5 L586.6,545.8 L584.7,535.0 L582.9,524.4 L581.1,513.7 L579.3,503.1 L577.5,492.6 L575.7,482.1 L573.9,471.6 L572.1,461.1 L570.3,450.7 L568.5,440.3 L566.7,430.0 L565.0,419.7 L563.2,409.4 L561.4,399.1 L559.7,388.8 L557.9,378.6 L556.2,368.3 L554.4,358.1 L552.7,347.9 L550.9,337.7 L549.2,327.5 L547.4,317.3 L545.7,307.1 L543.9,297.0 L542.2,286.8 L540.4,276.6 L538.7,266.4 L536.9,256.2 L535.2,246.0 L533.4,235.8 L531.7,225.6 L529.9,215.3 L528.2,205.0 L526.4,194.8 L524.6,184.4 L522.9,174.1 L521.1,163.7 L519.3,153.4 L517.5,142.9 L515.7,132.5 L513.9,122.0 L512.1,111.4 L510.3,100.8 L508.5,90.2 L506.6,79.5 L504.8,68.7 L502.9,57.9 L501.1,47.0 L499.2,36.1 L497.3,25.1 L495.4,14.0 L493.5,2.8 L491.6,-8.4 L489.6,-19.8 L487.7,-31.2 L485.7,-42.8 L483.7,-54.4 L481.7,-66.2 L479.6,-78.1 L477.6,-90.1 L475.5,-102.2 L473.4,-114.5 L471.2,-127.0 L469.1,-139.6 M757.1,681.7 L753.9,670.3 L750.7,658.9 L747.5,647.7 L744.3,636.5 L741.1,625.4 L738.0,614.3 L734.9,603.3 L731.8,592.4 L728.8,581.6 L725.7,570.8 L722.7,560.0 L719.7,549.4 L716.6,538.7 L713.7,528.2 L710.7,517.7 L707.7,507.2 L704.8,496.8 L701.8,486.4 L698.9,476.0 L696.0,465.7 L693.1,455.5 L690.2,445.2 L687.3,435.0 L684.4,424.9 L681.6,414.7 L678.7,404.6 L675.9,394.5 L673.0,384.5 L670.2,374.4 L667.3,364.4 L664.5,354.4 L661.7,344.4 L658.9,334.4 L656.0,324.5 L653.2,314.5 L650.4,304.6 L647.6,294.6 L644.8,284.7 L642.0,274.8 L639.2,264.8 L636.3,254.9 L633.5,244.9 L630.7,235.0 L627.9,225.0 L625.1,215.0 L622.2,205.0 L619.4,195.0 L616.6,185.0 L613.7,175.0 L610.9,164.9 L608.0,154.8 L605.2,144.7 L602.3,134.6 L599.4,124.4 L596.5,114.2 L593.6,103.9 L590.7,93.6 L587.8,83.3 L584.9,72.9 L581.9,62.4 L578.9,51.9 L575.9,41.4 L572.9,30.8 L569.9,20.1 L566.9,9.3 L563.8,-1.5 L560.7,-12.4 L557.6,-23.4 L554.5,-34.5 L551.3,-45.6 L548.1,-56.9 L544.9,-68.3 L541.7,-79.8 L538.4,-91.4 L535.1,-103.1 L531.7,-115.0 L528.3,-127.0 L524.9,-139.1 L521.4,-151.5 M-247.8,342.6 L-240.1,347.5 L-232.4,352.4 L-224.6,357.2 L-216.8,361.9 L-209.0,366.5 L-201.1,371.1 L-193.2,375.7 L-185.2,380.2 L-177.3,384.6 L-169.2,388.9 L-161.2,393.2 L-153.1,397.4 L-145.0,401.6 L-136.8,405.7 L-128.6,409.7 L-120.4,413.7 L-112.2,417.6 L-103.9,421.5 L-95.6,425.2 L-87.3,428.9 L-78.9,432.6 L-70.5,436.2 L-62.1,439.7 L-53.6,443.1 L-45.2,446.5 L-36.7,449.8 L-28.1,453.1 L-19.6,456.3 L-11.0,459.4 L-2.4,462.4 L6.2,465.4 L14.9,468.3 L23.5,471.2 L32.2,474.0 L40.9,476.7 L49.7,479.3 L58.4,481.9 L67.2,484.4 L76.0,486.8 L84.8,489.2 L93.6,491.5 L102.5,493.7 L111.3,495.9 L120.2,498.0 L129.1,500.0 L138.0,502.0 L147.0,503.9 L155.9,505.7 L164.8,507.4 L173.8,509.1 L182.8,510.7 L191.8,512.2 L200.8,513.7 L209.8,515.1 L218.8,516.4 L227.9,517.7 L236.9,518.8 L246.0,519.9 L255.1,521.0 L264.1,521.9 L273.2,522.8 L282.3,523.7 L291.4,524.4 L300.5,525.1 L309.6,525.7 L318.7,526.3 L327.8,526.7 L336.9,527.1 L346.0,527.5 L355.2,527.7 L364.3,527.9 L373.4,528.0 L382.5,528.1 L391.7,528.0 L400.8,527.9 L409.9,527.8 L419.0,527.5 L428.2,527.2 L437.3,526.8 L446.4,526.4 L455.5,525.8 L464.6,525.2 L473.7,524.6 L482.8,523.8 L491.9,523.0 L501.0,522.1 L510.0,521.2 L519.1,520.2 L528.2,519.1 L537.2,517.9 L546.3,516.7 L555.3,515.3 L564.3,514.0 L573.3,512.5 L582.3,511.0 L591.3,509.4 L600.3,507.7 L609.2,506.0 L618.2,504.2 L627.1,502.3 L636.0,500.4 L644.9,498.4 L653.8,496.3 L662.7,494.2 L671.5,492.0 L680.4,489.7 L689.2,487.3 L698.0,484.9 L706.7,482.4 L715.5,479.8 L724.2,477.2 L733.0,474.5 L741.6,471.7 L750.3,468.9 L759.0,466.0 L767.6,463.0 L776.2,460.0 L784.8,456.9 L793.3,453.7 L801.9,450.5 L810.4,447.2 L818.9,443.8 L827.3,440.4 L835.7,436.9 L844.1,433.3 L852.5,429.7 L860.8,426.0 L869.2,422.2 L877.4,418.4 L885.7,414.5 L893.9,410.5 L902.1,406.5 L910.3,402.4 L918.4,398.3 L926.5,394.0 L934.5,389.8 L942.6,385.4 L950.6,381.0 L958.5,376.6 L966.4,372.0 L974.3,367.4 L982.2,362.8 L990.0,358.1 L997.8,353.3 L1005.5,348.5 L1013.2,343.6 L1020.9,338.6 L1028.5,333.6 L1036.1,328.5 M-212.9,288.2 L-205.6,292.9 L-198.3,297.4 L-190.9,301.9 L-183.6,306.4 L-176.2,310.8 L-168.7,315.2 L-161.2,319.4 L-153.7,323.7 L-146.2,327.8 L-138.6,332.0 L-131.0,336.0 L-123.4,340.0 L-115.7,343.9 L-108.0,347.8 L-100.3,351.6 L-92.5,355.4 L-84.7,359.1 L-76.9,362.7 L-69.1,366.3 L-61.2,369.8 L-53.3,373.2 L-45.4,376.6 L-37.4,379.9 L-29.4,383.2 L-21.4,386.4 L-13.4,389.5 L-5.3,392.6 L2.7,395.6 L10.8,398.5 L19.0,401.4 L27.1,404.2 L35.3,407.0 L43.5,409.7 L51.7,412.3 L59.9,414.8 L68.2,417.3 L76.4,419.8 L84.7,422.1 L93.0,424.4 L101.3,426.7 L109.7,428.9 L118.0,431.0 L126.4,433.0 L134.8,435.0 L143.2,436.9 L151.6,438.7 L160.1,440.5 L168.5,442.2 L177.0,443.9 L185.4,445.5 L193.9,447.0 L202.4,448.4 L210.9,449.8 L219.4,451.1 L228.0,452.4 L236.5,453.6 L245.1,454.7 L253.6,455.7 L262.2,456.7 L270.7,457.6 L279.3,458.5 L287.9,459.2 L296.5,460.0 L305.1,460.6 L313.7,461.2 L322.3,461.7 L330.9,462.1 L339.5,462.5 L348.1,462.8 L356.7,463.1 L365.4,463.2 L374.0,463.3 L382.6,463.4 L391.2,463.4 L399.8,463.3 L408.4,463.1 L417.1,462.9 L425.7,462.6 L434.3,462.2 L442.9,461.8 L451.5,461.3 L460.1,460.7 L468.7,460.1 L477.3,459.4 L485.9,458.6 L494.4,457.8 L503.0,456.9 L511.6,455.9 L520.1,454.9 L528.7,453.8 L537.2,452.6 L545.8,451.4 L554.3,450.1 L562.8,448.7 L571.3,447.3 L579.8,445.8 L588.2,444.2 L596.7,442.6 L605.2,440.9 L613.6,439.1 L622.0,437.3 L630.4,435.4 L638.8,433.4 L647.2,431.4 L655.6,429.3 L663.9,427.1 L672.2,424.9 L680.5,422.6 L688.8,420.2 L697.1,417.8 L705.4,415.3 L713.6,412.8 L721.8,410.2 L730.0,407.5 L738.2,404.8 L746.3,402.0 L754.4,399.1 L762.5,396.2 L770.6,393.2 L778.7,390.1 L786.7,387.0 L794.7,383.8 L802.7,380.6 L810.7,377.2 L818.6,373.9 L826.5,370.4 L834.4,366.9 L842.2,363.4 L850.1,359.8 L857.9,356.1 L865.6,352.4 L873.4,348.6 L881.1,344.7 L888.7,340.8 L896.4,336.8 L904.0,332.8 L911.6,328.7 L919.1,324.5 L926.6,320.3 L934.1,316.0 L941.6,311.7 L949.0,307.3 L956.4,302.8 L963.7,298.3 L971.0,293.8 L978.3,289.1 L985.5,284.5 L992.7,279.7 L999.9,274.9 M-178.5,234.7 L-171.6,239.1 L-164.7,243.4 L-157.8,247.7 L-150.9,251.9 L-143.9,256.0 L-136.9,260.1 L-129.8,264.2 L-122.8,268.1 L-115.6,272.1 L-108.5,275.9 L-101.3,279.8 L-94.1,283.5 L-86.9,287.2 L-79.7,290.9 L-72.4,294.5 L-65.1,298.0 L-57.7,301.5 L-50.4,304.9 L-43.0,308.3 L-35.5,311.6 L-28.1,314.8 L-20.6,318.0 L-13.1,321.1 L-5.6,324.2 L1.9,327.2 L9.5,330.2 L17.1,333.1 L24.7,335.9 L32.3,338.7 L40.0,341.4 L47.7,344.0 L55.4,346.6 L63.1,349.2 L70.8,351.6 L78.6,354.1 L86.3,356.4 L94.1,358.7 L101.9,360.9 L109.8,363.1 L117.6,365.2 L125.5,367.3 L133.3,369.2 L141.2,371.2 L149.1,373.0 L157.1,374.8 L165.0,376.6 L172.9,378.3 L180.9,379.9 L188.9,381.4 L196.9,382.9 L204.8,384.3 L212.9,385.7 L220.9,387.0 L228.9,388.2 L236.9,389.4 L245.0,390.5 L253.0,391.6 L261.1,392.6 L269.2,393.5 L277.2,394.4 L285.3,395.2 L293.4,395.9 L301.5,396.6 L309.6,397.2 L317.7,397.7 L325.8,398.2 L333.9,398.6 L342.0,399.0 L350.2,399.3 L358.3,399.5 L366.4,399.7 L374.5,399.8 L382.6,399.8 L390.8,399.8 L398.9,399.7 L407.0,399.5 L415.1,399.3 L423.2,399.0 L431.4,398.7 L439.5,398.3 L447.6,397.8 L455.7,397.3 L463.8,396.7 L471.9,396.0 L480.0,395.3 L488.0,394.5 L496.1,393.7 L504.2,392.8 L512.3,391.8 L520.3,390.7 L528.4,389.6 L536.4,388.5 L544.4,387.3 L552.4,386.0 L560.5,384.6 L568.4,383.2 L576.4,381.7 L584.4,380.2 L592.4,378.6 L600.3,376.9 L608.3,375.2 L616.2,373.4 L624.1,371.5 L632.0,369.6 L639.9,367.7 L647.7,365.6 L655.6,363.5 L663.4,361.4 L671.2,359.1 L679.0,356.9 L686.8,354.5 L694.5,352.1 L702.3,349.7 L710.0,347.1 L717.7,344.6 L725.4,341.9 L733.0,339.2 L740.7,336.4 L748.3,333.6 L755.9,330.7 L763.5,327.8 L771.0,324.8 L778.5,321.7 L786.0,318.6 L793.5,315.4 L801.0,312.2 L808.4,308.9 L815.8,305.6 L823.1,302.2 L830.5,298.7 L837.8,295.2 L845.1,291.6 L852.4,288.0 L859.6,284.3 L866.8,280.5 L874.0,276.7 L881.1,272.8 L888.2,268.9 L895.3,264.9 L902.4,260.9 L909.4,256.8 L916.4,252.7 L923.3,248.5 L930.3,244.3 L937.1,239.9 L944.0,235.6 L950.8,231.2 L957.6,226.7 L964.4,222.2 M-144.4,181.8 L-138.0,185.9 L-131.5,189.9 L-125.0,193.9 L-118.5,197.9 L-111.9,201.8 L-105.3,205.6 L-98.7,209.4 L-92.1,213.2 L-85.4,216.9 L-78.7,220.5 L-72.0,224.1 L-65.2,227.6 L-58.4,231.1 L-51.6,234.5 L-44.8,237.9 L-37.9,241.2 L-31.0,244.5 L-24.1,247.7 L-17.1,250.9 L-10.2,254.0 L-3.2,257.0 L3.9,260.0 L10.9,262.9 L18.0,265.8 L25.0,268.7 L32.2,271.4 L39.3,274.1 L46.4,276.8 L53.6,279.4 L60.8,282.0 L68.0,284.5 L75.2,286.9 L82.5,289.3 L89.8,291.6 L97.0,293.9 L104.3,296.1 L111.7,298.2 L119.0,300.3 L126.3,302.4 L133.7,304.4 L141.1,306.3 L148.5,308.1 L155.9,309.9 L163.3,311.7 L170.8,313.4 L178.2,315.0 L185.7,316.6 L193.2,318.1 L200.7,319.6 L208.2,321.0 L215.7,322.3 L223.2,323.6 L230.7,324.8 L238.3,326.0 L245.8,327.1 L253.4,328.1 L260.9,329.1 L268.5,330.1 L276.1,330.9 L283.7,331.7 L291.3,332.5 L298.9,333.2 L306.5,333.8 L314.1,334.4 L321.7,334.9 L329.3,335.3 L336.9,335.7 L344.5,336.1 L352.2,336.3 L359.8,336.6 L367.4,336.7 L375.1,336.8 L382.7,336.8 L390.3,336.8 L397.9,336.7 L405.6,336.6 L413.2,336.4 L420.8,336.1 L428.4,335.8 L436.1,335.4 L443.7,335.0 L451.3,334.5 L458.9,333.9 L466.5,333.3 L474.1,332.6 L481.7,331.9 L489.3,331.1 L496.9,330.2 L504.4,329.3 L512.0,328.3 L519.6,327.3 L527.1,326.2 L534.7,325.1 L542.2,323.8 L549.7,322.6 L557.2,321.2 L564.7,319.9 L572.2,318.4 L579.7,316.9 L587.2,315.3 L594.6,313.7 L602.1,312.0 L609.5,310.3 L616.9,308.5 L624.3,306.6 L631.7,304.7 L639.1,302.8 L646.4,300.7 L653.8,298.7 L661.1,296.5 L668.4,294.3 L675.7,292.1 L683.0,289.7 L690.2,287.4 L697.4,284.9 L704.7,282.5 L711.9,279.9 L719.0,277.3 L726.2,274.7 L733.3,272.0 L740.4,269.2 L747.5,266.4 L754.6,263.5 L761.6,260.6 L768.7,257.6 L775.7,254.6 L782.6,251.5 L789.6,248.3 L796.5,245.1 L803.4,241.9 L810.3,238.6 L817.1,235.2 L823.9,231.8 L830.7,228.3 L837.5,224.8 L844.2,221.2 L851.0,217.6 L857.6,213.9 L864.3,210.2 L870.9,206.4 L877.5,202.5 L884.1,198.6 L890.6,194.7 L897.1,190.7 L903.6,186.7 L910.0,182.6 L916.4,178.4 L922.8,174.3 L929.2,170.0 M-110.5,129.0 L-104.4,132.8 L-98.4,136.6 L-92.3,140.3 L-86.2,144.0 L-80.1,147.7 L-73.9,151.3 L-67.7,154.8 L-61.5,158.3 L-55.2,161.8 L-49.0,165.2 L-42.7,168.5 L-36.3,171.8 L-30.0,175.1 L-23.6,178.3 L-17.2,181.5 L-10.8,184.6 L-4.3,187.6 L2.2,190.6 L8.7,193.6 L15.2,196.5 L21.7,199.4 L28.3,202.2 L34.9,204.9 L41.5,207.6 L48.1,210.3 L54.8,212.8 L61.4,215.4 L68.1,217.9 L74.8,220.3 L81.6,222.7 L88.3,225.0 L95.1,227.3 L101.8,229.5 L108.6,231.7 L115.5,233.8 L122.3,235.9 L129.1,237.9 L136.0,239.9 L142.9,241.8 L149.8,243.6 L156.7,245.4 L163.6,247.2 L170.5,248.9 L177.5,250.5 L184.5,252.1 L191.4,253.6 L198.4,255.1 L205.4,256.5 L212.4,257.9 L219.4,259.2 L226.5,260.5 L233.5,261.7 L240.5,262.8 L247.6,263.9 L254.7,264.9 L261.7,265.9 L268.8,266.8 L275.9,267.7 L283.0,268.5 L290.1,269.3 L297.2,270.0 L304.3,270.6 L311.4,271.2 L318.5,271.7 L325.7,272.2 L332.8,272.6 L339.9,273.0 L347.1,273.3 L354.2,273.6 L361.3,273.8 L368.5,273.9 L375.6,274.0 L382.7,274.0 L389.9,274.0 L397.0,273.9 L404.1,273.8 L411.3,273.6 L418.4,273.4 L425.6,273.1 L432.7,272.7 L439.8,272.3 L446.9,271.8 L454.1,271.3 L461.2,270.7 L468.3,270.1 L475.4,269.4 L482.5,268.7 L489.6,267.9 L496.7,267.0 L503.7,266.1 L510.8,265.1 L517.9,264.1 L524.9,263.0 L532.0,261.9 L539.0,260.7 L546.1,259.5 L553.1,258.2 L560.1,256.8 L567.1,255.4 L574.1,253.9 L581.0,252.4 L588.0,250.8 L595.0,249.2 L601.9,247.5 L608.8,245.8 L615.7,244.0 L622.6,242.2 L629.5,240.3 L636.4,238.3 L643.2,236.3 L650.1,234.3 L656.9,232.1 L663.7,230.0 L670.5,227.8 L677.2,225.5 L684.0,223.2 L690.7,220.8 L697.4,218.4 L704.1,215.9 L710.8,213.3 L717.5,210.8 L724.1,208.1 L730.7,205.4 L737.3,202.7 L743.9,199.9 L750.4,197.1 L756.9,194.2 L763.4,191.2 L769.9,188.2 L776.4,185.2 L782.8,182.1 L789.2,178.9 L795.6,175.7 L802.0,172.5 L808.3,169.2 L814.6,165.8 L820.9,162.5 L827.1,159.0 L833.4,155.5 L839.6,152.0 L845.7,148.4 L851.9,144.7 L858.0,141.1 L864.1,137.3 L870.1,133.5 L876.1,129.7 L882.1,125.8 L888.1,121.9 L894.0,118.0 M-76.3,75.9 L-70.7,79.5 L-65.1,83.0 L-59.4,86.5 L-53.7,89.9 L-48.0,93.3 L-42.3,96.7 L-36.5,100.0 L-30.7,103.2 L-24.9,106.4 L-19.1,109.6 L-13.2,112.7 L-7.3,115.8 L-1.4,118.8 L4.5,121.8 L10.5,124.8 L16.5,127.7 L22.5,130.5 L28.5,133.3 L34.6,136.0 L40.6,138.7 L46.7,141.4 L52.8,144.0 L59.0,146.6 L65.1,149.1 L71.3,151.6 L77.5,154.0 L83.7,156.3 L89.9,158.7 L96.2,160.9 L102.4,163.1 L108.7,165.3 L115.0,167.4 L121.3,169.5 L127.6,171.5 L134.0,173.5 L140.3,175.4 L146.7,177.3 L153.1,179.1 L159.5,180.9 L165.9,182.6 L172.4,184.3 L178.8,185.9 L185.3,187.5 L191.7,189.0 L198.2,190.5 L204.7,191.9 L211.2,193.3 L217.7,194.6 L224.2,195.9 L230.8,197.1 L237.3,198.3 L243.9,199.4 L250.4,200.5 L257.0,201.5 L263.6,202.4 L270.1,203.4 L276.7,204.2 L283.3,205.0 L289.9,205.8 L296.5,206.5 L303.2,207.1 L309.8,207.7 L316.4,208.3 L323.0,208.8 L329.7,209.2 L336.3,209.6 L342.9,210.0 L349.6,210.3 L356.2,210.5 L362.8,210.7 L369.5,210.8 L376.1,210.9 L382.8,210.9 L389.4,210.9 L396.1,210.8 L402.7,210.7 L409.4,210.5 L416.0,210.3 L422.6,210.0 L429.3,209.7 L435.9,209.3 L442.5,208.9 L449.2,208.4 L455.8,207.9 L462.4,207.3 L469.0,206.6 L475.6,205.9 L482.2,205.2 L488.8,204.4 L495.4,203.5 L502.0,202.6 L508.6,201.7 L515.2,200.7 L521.7,199.6 L528.3,198.5 L534.8,197.4 L541.4,196.1 L547.9,194.9 L554.4,193.6 L560.9,192.2 L567.4,190.8 L573.9,189.3 L580.3,187.8 L586.8,186.3 L593.2,184.6 L599.7,183.0 L606.1,181.3 L612.5,179.5 L618.9,177.7 L625.3,175.8 L631.6,173.9 L638.0,171.9 L644.3,169.9 L650.6,167.9 L656.9,165.7 L663.2,163.6 L669.5,161.4 L675.7,159.1 L682.0,156.8 L688.2,154.4 L694.4,152.0 L700.6,149.6 L706.7,147.1 L712.8,144.5 L719.0,141.9 L725.1,139.3 L731.1,136.6 L737.2,133.8 L743.2,131.0 L749.2,128.2 L755.2,125.3 L761.2,122.4 L767.1,119.4 L773.0,116.4 L778.9,113.3 L784.8,110.2 L790.6,107.1 L796.5,103.9 L802.3,100.6 L808.0,97.3 L813.8,94.0 L819.5,90.6 L825.2,87.1 L830.9,83.7 L836.5,80.1 L842.1,76.6 L847.7,73.0 L853.2,69.3 L858.8,65.6 M-41.7,22.1 L-36.6,25.4 L-31.3,28.7 L-26.1,31.9 L-20.9,35.1 L-15.6,38.2 L-10.3,41.3 L-4.9,44.4 L0.4,47.4 L5.8,50.3 L11.2,53.3 L16.6,56.2 L22.1,59.0 L27.5,61.8 L33.0,64.6 L38.5,67.3 L44.1,70.0 L49.6,72.6 L55.2,75.2 L60.8,77.7 L66.4,80.2 L72.0,82.7 L77.7,85.1 L83.4,87.5 L89.1,89.8 L94.8,92.1 L100.5,94.3 L106.2,96.5 L112.0,98.6 L117.8,100.7 L123.6,102.8 L129.4,104.8 L135.2,106.8 L141.0,108.7 L146.9,110.6 L152.8,112.4 L158.6,114.2 L164.5,115.9 L170.4,117.6 L176.4,119.2 L182.3,120.8 L188.2,122.4 L194.2,123.9 L200.2,125.3 L206.2,126.7 L212.1,128.1 L218.1,129.4 L224.2,130.7 L230.2,131.9 L236.2,133.1 L242.3,134.2 L248.3,135.3 L254.4,136.3 L260.4,137.3 L266.5,138.2 L272.6,139.1 L278.7,140.0 L284.8,140.8 L290.9,141.5 L297.0,142.2 L303.1,142.9 L309.2,143.5 L315.3,144.0 L321.4,144.5 L327.6,145.0 L333.7,145.4 L339.8,145.8 L346.0,146.1 L352.1,146.4 L358.3,146.6 L364.4,146.8 L370.5,146.9 L376.7,147.0 L382.8,147.0 L389.0,147.0 L395.1,146.9 L401.3,146.8 L407.4,146.6 L413.6,146.4 L419.7,146.2 L425.8,145.8 L432.0,145.5 L438.1,145.1 L444.2,144.6 L450.4,144.1 L456.5,143.6 L462.6,143.0 L468.7,142.3 L474.8,141.7 L480.9,140.9 L487.0,140.1 L493.1,139.3 L499.2,138.4 L505.2,137.5 L511.3,136.5 L517.4,135.5 L523.4,134.4 L529.5,133.3 L535.5,132.1 L541.5,130.9 L547.5,129.7 L553.5,128.4 L559.5,127.0 L565.5,125.6 L571.5,124.2 L577.5,122.7 L583.4,121.1 L589.3,119.5 L595.3,117.9 L601.2,116.2 L607.1,114.5 L613.0,112.7 L618.8,110.9 L624.7,109.0 L630.5,107.1 L636.4,105.2 L642.2,103.2 L648.0,101.1 L653.7,99.1 L659.5,96.9 L665.3,94.7 L671.0,92.5 L676.7,90.2 L682.4,87.9 L688.1,85.6 L693.7,83.2 L699.4,80.7 L705.0,78.2 L710.6,75.7 L716.1,73.1 L721.7,70.5 L727.2,67.8 L732.8,65.1 L738.3,62.4 L743.7,59.6 L749.2,56.7 L754.6,53.8 L760.0,50.9 L765.4,48.0 L770.8,44.9 L776.1,41.9 L781.4,38.8 L786.7,35.7 L792.0,32.5 L797.2,29.3 L802.4,26.0 L807.6,22.7 L812.8,19.4 L817.9,16.0 L823.0,12.6" fill="none" stroke="#000" stroke-opacity="0.5" stroke-width="1.0"/>
<g font-size="27.78">
<rect x="96.8" y="457.5" width="92.5" height="44.3" rx="6.3" ry="6.3" fill="#fff" stroke="#000" stroke-width="1.4"/>
<text x="106.3" y="487.6">Mean</text>
<rect x="400.3" y="457.5" width="249.3" height="44.3" rx="6.3" ry="6.3" fill="#fff" stroke="#000" stroke-width="1.4"/>
<text x="409.6" y="487.6">Run: 2026-01-04</text>
</g>
</g>
<path d="M88.0,508.0 H661.5 V109.0" fill="none" stroke="#000" stroke-width="1.1"/>
<g font-size="27.4" text-anchor="end">
<text transform="translate(78.8,162.0) rotate(17.9)">45°N</text>
<text transform="translate(78.8,228.4) rotate(16.6)">40°N</text>
<text transform="translate(78.3,295.4) rotate(15.5)">35°N</text>
<text transform="translate(79.0,361.6) rotate(14.6)">30°N</text>
<text transform="translate(79.0,428.2) rotate(13.9)">25°N</text>
<text transform="translate(78.2,496.6) rotate(13.2)">20°N</text>
</g>
<g font-size="27.78" text-anchor="middle">
<text x="163" y="532">110°W</text>
<text x="287" y="532">100°W</text>
<text x="420" y="532">90°W</text>
<text x="545" y="532">80°W</text>
</g>
<rect x="157.30" y="560.7" width="62.33" height="23.3" fill="#fff5eb"/>
<rect x="219.33" y="560.7" width="62.33" height="23.3" fill="#fee6ce"/>
<rect x="281.36" y="560.7" width="62.33" height="23.3" fill="#fdd0a2"/>
<rect x="343.39" y="560.7" width="62.33" height="23.3" fill="#fdae6b"/>
<rect x="405.42" y="560.7" width="62.33" height="23.3" fill="#fd8d3c"/>
<rect x="467.45" y="560.7" width="62.33" height="23.3" fill="#f16913"/>
<rect x="529.48" y="560.7" width="62.33" height="23.3" fill="#d94801"/>
<path d="M157.3,560.7 L135.2,572.35 L157.3,584.0Z" fill="#808080"/>
<path d="M591.5,560.7 L613.6,572.35 L591.5,584.0Z" fill="#8c2d04"/>
<path d="M157.3,560.7 L135.2,572.35 L157.3,584.0 H591.5 L613.6,572.35 L591.5,560.7Z" fill="none" stroke="#000" stroke-width="1.1" stroke-linejoin="miter"/>
<g font-size="27.78" text-anchor="middle">
<text x="157.3" y="616.5">0.1</text>
<text x="219.3" y="616.5">0.2</text>
<text x="281.4" y="616.5">0.5</text>
<text x="343.4" y="616.5">0.6</text>
<text x="405.4" y="616.5">0.7</text>
<text x="467.4" y="616.5">0.8</text>
<text x="529.5" y="616.5">0.9</text>
<text x="591.5" y="616.5">1.0</text>
</g>
<path d="M157.3,584.0 v5.4 M219.3,584.0 v5.4 M281.4,584.0 v5.4 M343.4,584.0 v5.4 M405.4,584.0 v5.4 M467.4,584.0 v5.4 M529.5,584.0 v5.4 M591.5,584.0 v5.4" stroke="#000" stroke-width="1.1" fill="none"/>
<text x="374.4" y="643.6" font-size="20.83" text-anchor="middle">HAINES Daily Mean Probability</text>
</svg></body></html>
